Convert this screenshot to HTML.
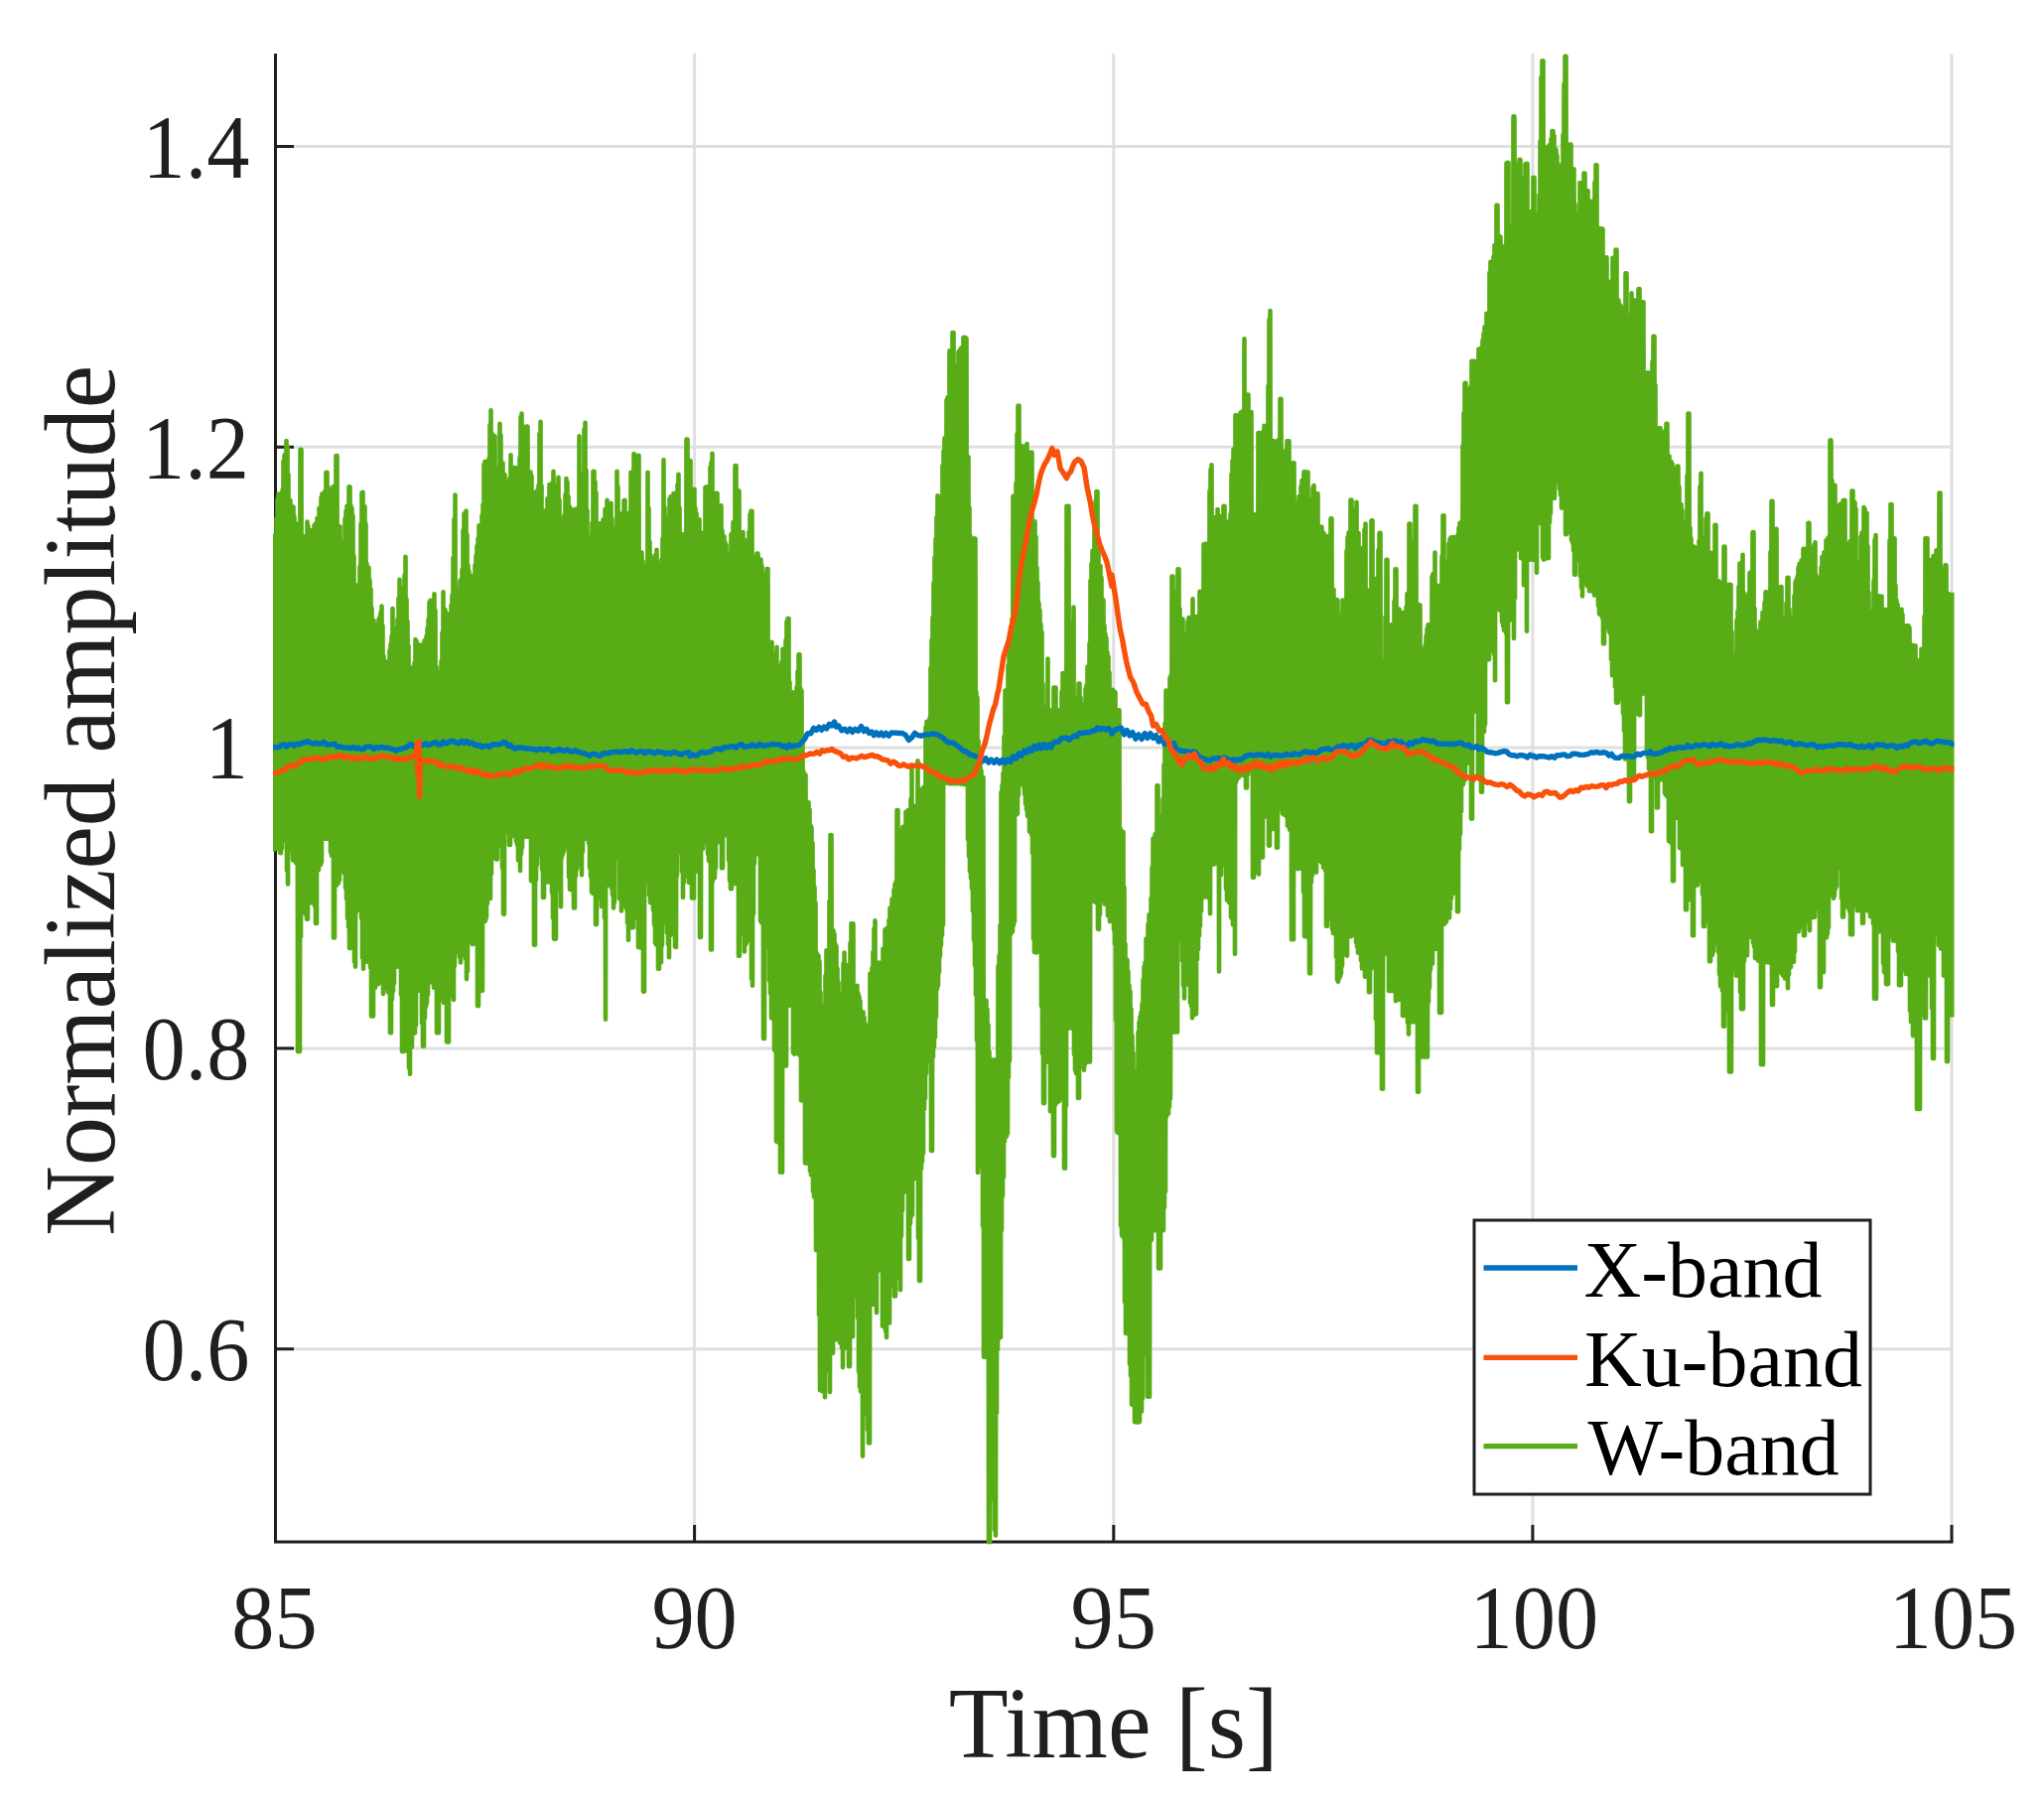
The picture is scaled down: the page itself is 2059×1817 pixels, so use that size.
<!DOCTYPE html>
<html lang="en"><head><meta charset="utf-8"><title>Normalized amplitude vs time</title>
<style>html,body{margin:0;padding:0;background:#fff}svg{display:block}</style></head>
<body>
<svg width="2059" height="1817" viewBox="0 0 2059 1817">
<rect width="2059" height="1817" fill="#fff"/>
<defs><clipPath id="ax"><rect x="275.0" y="53.0" width="1693.5" height="1502.4"/></clipPath></defs>
<g stroke="#DFDFDF" stroke-width="3" fill="none">
<line x1="699.6" y1="54.0" x2="699.6" y2="1552.9"/>
<line x1="1121.8" y1="54.0" x2="1121.8" y2="1552.9"/>
<line x1="1543.9" y1="54.0" x2="1543.9" y2="1552.9"/>
<line x1="1966.0" y1="54.0" x2="1966.0" y2="1552.9"/>
<line x1="277.5" y1="1358.7" x2="1966.0" y2="1358.7"/>
<line x1="277.5" y1="1055.9" x2="1966.0" y2="1055.9"/>
<line x1="277.5" y1="753.1" x2="1966.0" y2="753.1"/>
<line x1="277.5" y1="450.3" x2="1966.0" y2="450.3"/>
<line x1="277.5" y1="147.5" x2="1966.0" y2="147.5"/>
</g>
<g stroke="#1f1f1f" stroke-width="3" fill="none" stroke-linecap="butt">
<polyline points="277.5,54.0 277.5,1552.9 1967.5,1552.9" stroke-linejoin="miter"/>
<line x1="699.6" y1="1552.9" x2="699.6" y2="1535.9"/>
<line x1="1121.8" y1="1552.9" x2="1121.8" y2="1535.9"/>
<line x1="1543.9" y1="1552.9" x2="1543.9" y2="1535.9"/>
<line x1="1966.0" y1="1552.9" x2="1966.0" y2="1535.9"/>
<line x1="277.5" y1="1358.7" x2="296.0" y2="1358.7"/>
<line x1="277.5" y1="1055.9" x2="296.0" y2="1055.9"/>
<line x1="277.5" y1="753.1" x2="296.0" y2="753.1"/>
<line x1="277.5" y1="450.3" x2="296.0" y2="450.3"/>
<line x1="277.5" y1="147.5" x2="296.0" y2="147.5"/>
</g>
<g clip-path="url(#ax)">
<polyline points="273.5,539.5 274.0,855.7 274.5,539.5 275.0,855.7 275.5,539.5 276.0,855.7 276.5,548.9 277.0,848.3 277.5,556.7 278.0,848.7 278.5,522.2 279.0,854.3 279.5,503.0 280.0,847.3 280.5,497.6 281.0,847.9 281.5,497.9 282.0,858.9 282.5,500.2 283.0,859.3 283.5,503.1 284.0,854.2 284.5,493.9 285.0,831.5 285.5,464.9 286.0,827.7 286.5,458.5 287.0,843.7 287.5,457.0 288.0,846.8 288.5,444.1 289.0,876.8 289.5,449.6 290.0,890.5 290.5,477.8 291.0,848.9 291.5,518.4 292.0,851.2 292.5,504.0 293.0,853.5 293.5,511.7 294.0,857.1 294.5,522.6 295.0,866.4 295.5,510.6 296.0,864.3 296.5,520.4 297.0,861.0 297.5,535.2 298.0,869.0 298.5,527.3 299.0,870.1 299.5,540.6 300.0,1058.9 300.5,545.8 301.0,1058.9 301.5,543.7 302.0,1058.9 302.5,452.9 303.0,943.8 303.5,452.9 304.0,907.1 304.5,544.5 305.0,915.3 305.5,542.7 306.0,915.1 306.5,540.2 307.0,919.5 307.5,542.6 308.0,920.8 308.5,552.8 309.0,925.8 309.5,525.6 310.0,925.8 310.5,530.0 311.0,893.8 311.5,539.2 312.0,908.6 312.5,534.7 313.0,909.2 313.5,537.0 314.0,909.2 314.5,534.0 315.0,908.8 315.5,537.0 316.0,909.0 316.5,529.2 317.0,912.6 317.5,528.0 318.0,930.0 318.5,530.9 319.0,930.0 319.5,522.0 320.0,877.0 320.5,531.1 321.0,876.1 321.5,511.8 322.0,863.1 322.5,514.4 323.0,871.1 323.5,501.1 324.0,868.1 324.5,497.3 325.0,845.8 325.5,500.3 326.0,844.6 326.5,497.0 327.0,844.7 327.5,494.3 328.0,844.7 328.5,475.7 329.0,844.7 329.5,475.7 330.0,844.7 330.5,490.6 331.0,844.6 331.5,493.2 332.0,844.5 332.5,497.5 333.0,858.2 333.5,505.7 334.0,862.0 334.5,498.2 335.0,861.4 335.5,490.3 336.0,944.5 336.5,492.0 337.0,944.5 337.5,496.6 338.0,892.1 338.5,459.1 339.0,891.8 339.5,459.1 340.0,875.9 340.5,532.9 341.0,889.4 341.5,531.8 342.0,886.4 342.5,530.3 343.0,878.2 343.5,548.3 344.0,875.5 344.5,545.2 345.0,876.2 345.5,546.6 346.0,870.6 346.5,548.8 347.0,879.8 347.5,522.2 348.0,894.3 348.5,515.1 349.0,905.2 349.5,509.8 350.0,925.2 350.5,510.2 351.0,933.4 351.5,490.3 352.0,954.9 352.5,490.3 353.0,954.9 353.5,509.5 354.0,935.9 354.5,512.1 355.0,933.3 355.5,519.9 356.0,933.8 356.5,560.1 357.0,968.4 357.5,589.9 358.0,973.6 358.5,589.2 359.0,918.4 359.5,593.9 360.0,916.2 360.5,601.0 361.0,894.9 361.5,604.3 362.0,889.4 362.5,570.6 363.0,898.0 363.5,527.9 364.0,924.5 364.5,496.3 365.0,964.8 365.5,495.8 366.0,975.7 366.5,510.7 367.0,967.4 367.5,510.3 368.0,962.4 368.5,527.5 369.0,968.7 369.5,567.7 370.0,962.3 370.5,578.1 371.0,966.5 371.5,571.8 372.0,967.1 372.5,584.2 373.0,974.3 373.5,593.4 374.0,1023.5 374.5,612.5 375.0,1023.5 375.5,631.8 376.0,1023.5 376.5,624.7 377.0,994.8 377.5,629.4 378.0,994.7 378.5,633.9 379.0,979.9 379.5,636.5 380.0,985.8 380.5,634.8 381.0,991.3 381.5,623.8 382.0,978.3 382.5,621.6 383.0,982.2 383.5,617.0 384.0,977.6 384.5,610.5 385.0,989.9 385.5,630.4 386.0,1000.9 386.5,660.8 387.0,987.1 387.5,681.8 388.0,995.6 388.5,685.4 389.0,994.5 389.5,669.7 390.0,995.6 390.5,666.2 391.0,999.5 391.5,668.9 392.0,988.8 392.5,655.0 393.0,1040.2 393.5,648.9 394.0,1040.2 394.5,640.8 395.0,1006.4 395.5,613.0 396.0,998.2 396.5,632.6 397.0,990.4 397.5,652.7 398.0,969.5 398.5,639.5 399.0,972.1 399.5,644.6 400.0,973.8 400.5,623.9 401.0,967.6 401.5,602.6 402.0,961.4 402.5,583.9 403.0,971.6 403.5,591.5 404.0,1001.8 404.5,611.9 405.0,1058.9 405.5,612.9 406.0,1058.9 406.5,598.7 407.0,1058.9 407.5,579.4 408.0,1037.2 408.5,560.8 409.0,1038.4 409.5,603.5 410.0,1043.0 410.5,626.0 411.0,1058.9 411.5,650.5 412.0,1075.6 412.5,671.0 413.0,1081.7 413.5,677.2 414.0,1054.0 414.5,673.4 415.0,1054.4 415.5,672.9 416.0,1041.5 416.5,674.4 417.0,1030.8 417.5,667.7 418.0,1040.4 418.5,644.0 419.0,1032.8 419.5,645.9 420.0,981.7 420.5,651.8 421.0,997.3 421.5,649.6 422.0,997.8 422.5,649.9 423.0,986.7 423.5,649.5 424.0,993.7 424.5,653.3 425.0,1030.2 425.5,655.9 426.0,1053.7 426.5,649.3 427.0,1053.7 427.5,645.2 428.0,1025.5 428.5,645.7 429.0,1014.4 429.5,640.7 430.0,1010.6 430.5,632.8 431.0,1002.0 431.5,624.1 432.0,989.7 432.5,606.7 433.0,989.5 433.5,604.9 434.0,989.1 434.5,616.6 435.0,988.2 435.5,618.4 436.0,979.2 436.5,604.2 437.0,994.8 437.5,598.3 438.0,992.6 438.5,614.8 439.0,983.2 439.5,671.5 440.0,1040.2 440.5,698.0 441.0,1040.2 441.5,684.3 442.0,1040.2 442.5,685.6 443.0,976.7 443.5,676.4 444.0,982.7 444.5,666.1 445.0,991.6 445.5,637.3 446.0,1006.8 446.5,596.3 447.0,1009.9 447.5,613.5 448.0,997.1 448.5,614.3 449.0,1010.7 449.5,617.2 450.0,1049.5 450.5,618.6 451.0,1049.5 451.5,626.9 452.0,1049.5 452.5,631.1 453.0,998.5 453.5,631.4 454.0,1002.5 454.5,609.7 455.0,999.1 455.5,599.2 456.0,991.5 456.5,561.9 457.0,1006.9 457.5,523.1 458.0,972.4 458.5,498.6 459.0,950.2 459.5,595.7 460.0,943.0 460.5,593.9 461.0,951.7 461.5,608.3 462.0,958.8 462.5,601.5 463.0,963.8 463.5,585.4 464.0,969.5 464.5,583.6 465.0,962.2 465.5,573.8 466.0,941.1 466.5,534.4 467.0,943.6 467.5,517.2 468.0,935.9 468.5,519.7 469.0,965.8 469.5,514.5 470.0,986.1 470.5,538.6 471.0,978.3 471.5,569.6 472.0,949.3 472.5,575.2 473.0,935.3 473.5,581.0 474.0,942.2 474.5,579.7 475.0,949.2 475.5,593.7 476.0,951.1 476.5,599.9 477.0,950.6 477.5,590.3 478.0,949.8 478.5,569.1 479.0,949.0 479.5,559.6 480.0,947.1 480.5,550.1 481.0,1013.1 481.5,542.7 482.0,1013.1 482.5,529.4 483.0,998.4 483.5,540.9 484.0,990.4 484.5,536.3 485.0,998.0 485.5,519.1 486.0,997.7 486.5,508.4 487.0,928.7 487.5,467.8 488.0,920.1 488.5,464.9 489.0,927.6 489.5,493.4 490.0,924.1 490.5,488.7 491.0,909.9 491.5,491.8 492.0,894.6 492.5,461.9 493.0,904.4 493.5,428.0 494.0,905.0 494.5,413.4 495.0,880.2 495.5,436.3 496.0,854.6 496.5,439.5 497.0,863.7 497.5,453.8 498.0,858.2 498.5,439.4 499.0,860.0 499.5,497.6 500.0,865.4 500.5,494.3 501.0,865.5 501.5,502.5 502.0,852.0 502.5,471.3 503.0,845.2 503.5,426.9 504.0,843.4 504.5,438.5 505.0,842.1 505.5,467.1 506.0,873.9 506.5,466.2 507.0,920.6 507.5,479.2 508.0,920.6 508.5,478.1 509.0,837.6 509.5,484.5 510.0,837.4 510.5,489.7 511.0,835.7 511.5,492.0 512.0,837.8 512.5,486.1 513.0,851.0 513.5,481.8 514.0,851.0 514.5,458.2 515.0,840.1 515.5,479.0 516.0,833.5 516.5,483.1 517.0,825.3 517.5,471.0 518.0,842.3 518.5,471.1 519.0,842.5 519.5,471.3 520.0,847.4 520.5,471.6 521.0,851.1 521.5,476.9 522.0,866.5 522.5,475.3 523.0,860.5 523.5,461.1 524.0,877.0 524.5,420.2 525.0,860.0 525.5,416.5 526.0,853.7 526.5,429.2 527.0,843.6 527.5,441.8 528.0,842.7 528.5,452.0 529.0,829.1 529.5,447.4 530.0,842.7 530.5,429.6 531.0,842.7 531.5,429.9 532.0,842.7 532.5,476.0 533.0,842.0 533.5,492.1 534.0,840.9 534.5,475.6 535.0,887.3 535.5,479.3 536.0,872.2 536.5,497.9 537.0,876.1 537.5,496.5 538.0,951.8 538.5,496.4 539.0,951.8 539.5,507.9 540.0,886.2 540.5,494.6 541.0,871.1 541.5,505.6 542.0,854.2 542.5,488.9 543.0,860.8 543.5,437.0 544.0,861.2 544.5,424.8 545.0,850.3 545.5,489.4 546.0,875.5 546.5,531.2 547.0,904.0 547.5,517.3 548.0,904.0 548.5,514.8 549.0,888.0 549.5,514.4 550.0,888.3 550.5,525.8 551.0,888.4 551.5,502.0 552.0,888.4 552.5,501.4 553.0,876.2 553.5,488.1 554.0,882.8 554.5,504.0 555.0,879.2 555.5,491.9 556.0,899.1 556.5,486.3 557.0,924.8 557.5,474.7 558.0,945.6 558.5,488.3 559.0,945.6 559.5,507.7 560.0,945.6 560.5,503.1 561.0,882.9 561.5,498.3 562.0,885.2 562.5,480.9 563.0,870.4 563.5,503.2 564.0,895.6 564.5,522.3 565.0,913.3 565.5,530.7 566.0,863.8 566.5,530.7 567.0,860.2 567.5,546.8 568.0,857.5 568.5,518.6 569.0,852.9 569.5,498.1 570.0,835.1 570.5,482.0 571.0,845.5 571.5,485.7 572.0,848.0 572.5,500.0 573.0,883.3 573.5,510.0 574.0,895.8 574.5,511.7 575.0,896.1 575.5,513.8 576.0,888.7 576.5,531.8 577.0,890.1 577.5,513.8 578.0,914.4 578.5,513.4 579.0,914.4 579.5,512.9 580.0,882.4 580.5,520.7 581.0,875.4 581.5,518.0 582.0,868.0 582.5,511.8 583.0,859.8 583.5,439.4 584.0,871.0 584.5,517.0 585.0,871.4 585.5,518.0 586.0,881.3 586.5,518.1 587.0,857.7 587.5,477.5 588.0,836.9 588.5,432.2 589.0,844.7 589.5,425.8 590.0,844.7 590.5,473.7 591.0,827.9 591.5,514.1 592.0,840.9 592.5,540.3 593.0,849.1 593.5,547.2 594.0,873.9 594.5,554.1 595.0,882.9 595.5,548.7 596.0,898.5 596.5,526.7 597.0,899.8 597.5,474.7 598.0,883.6 598.5,474.7 599.0,897.9 599.5,485.2 600.0,931.0 600.5,496.3 601.0,931.0 601.5,543.2 602.0,901.4 602.5,529.3 603.0,901.3 603.5,527.5 604.0,901.3 604.5,527.2 605.0,904.9 605.5,527.0 606.0,912.9 606.5,538.1 607.0,907.8 607.5,523.4 608.0,907.1 608.5,531.1 609.0,924.4 609.5,513.0 610.0,1026.7 610.5,514.7 611.0,884.2 611.5,503.8 612.0,891.1 612.5,506.8 613.0,877.3 613.5,522.9 614.0,890.0 614.5,511.2 615.0,892.6 615.5,506.9 616.0,894.6 616.5,522.7 617.0,901.4 617.5,532.3 618.0,914.4 618.5,563.9 619.0,908.9 619.5,566.3 620.0,857.3 620.5,551.7 621.0,862.8 621.5,474.7 622.0,861.4 622.5,490.4 623.0,864.2 623.5,527.1 624.0,905.2 624.5,517.2 625.0,900.9 625.5,521.9 626.0,917.5 626.5,524.2 627.0,912.4 627.5,518.2 628.0,910.0 628.5,504.2 629.0,905.2 629.5,503.8 630.0,904.8 630.5,517.1 631.0,915.1 631.5,543.3 632.0,929.3 632.5,536.0 633.0,946.8 633.5,532.1 634.0,934.0 634.5,516.1 635.0,934.0 635.5,475.7 636.0,934.1 636.5,484.5 637.0,934.1 637.5,492.5 638.0,934.1 638.5,457.0 639.0,916.0 639.5,458.6 640.0,915.9 640.5,459.2 641.0,915.8 641.5,464.1 642.0,924.7 642.5,458.9 643.0,954.0 643.5,458.9 644.0,954.2 644.5,558.7 645.0,954.4 645.5,557.1 646.0,953.6 646.5,556.5 647.0,949.8 647.5,565.2 648.0,998.6 648.5,570.6 649.0,998.6 649.5,581.0 650.0,876.3 650.5,592.8 651.0,873.3 651.5,577.9 652.0,876.3 652.5,475.7 653.0,888.7 653.5,511.9 654.0,901.6 654.5,545.8 655.0,908.9 655.5,559.2 656.0,896.3 656.5,577.7 657.0,910.3 657.5,562.8 658.0,916.6 658.5,569.9 659.0,931.6 659.5,572.4 660.0,949.7 660.5,558.9 661.0,951.4 661.5,553.7 662.0,934.6 662.5,566.8 663.0,975.7 663.5,572.3 664.0,975.7 664.5,577.0 665.0,960.7 665.5,571.0 666.0,969.2 666.5,563.6 667.0,952.1 667.5,542.5 668.0,929.8 668.5,463.3 669.0,919.3 669.5,510.9 670.0,920.1 670.5,534.9 671.0,919.1 671.5,537.3 672.0,939.4 672.5,548.3 673.0,950.9 673.5,520.6 674.0,964.3 674.5,502.6 675.0,942.2 675.5,500.2 676.0,931.2 676.5,500.1 677.0,931.8 677.5,514.5 678.0,926.6 678.5,497.1 679.0,941.8 679.5,510.8 680.0,953.6 680.5,509.3 681.0,953.9 681.5,496.4 682.0,882.1 682.5,488.2 683.0,858.9 683.5,477.8 684.0,854.1 684.5,511.4 685.0,845.3 685.5,554.3 686.0,852.0 686.5,555.8 687.0,877.8 687.5,539.5 688.0,904.0 688.5,538.1 689.0,888.6 689.5,541.1 690.0,882.5 690.5,541.8 691.0,878.9 691.5,442.5 692.0,878.9 692.5,442.5 693.0,877.9 693.5,471.2 694.0,888.9 694.5,479.2 695.0,884.3 695.5,464.0 696.0,872.6 696.5,509.0 697.0,904.5 697.5,508.3 698.0,904.5 698.5,493.0 699.0,904.5 699.5,492.7 700.0,873.2 700.5,512.1 701.0,876.0 701.5,517.0 702.0,877.5 702.5,525.1 703.0,873.0 703.5,527.0 704.0,862.2 704.5,523.2 705.0,944.0 705.5,543.3 706.0,944.0 706.5,539.0 707.0,849.6 707.5,536.7 708.0,854.8 708.5,551.5 709.0,837.8 709.5,548.9 710.0,834.6 710.5,490.9 711.0,848.6 711.5,490.7 712.0,847.4 712.5,490.4 713.0,859.9 713.5,491.1 714.0,867.1 714.5,495.7 715.0,861.6 715.5,470.5 716.0,956.5 716.5,465.5 717.0,956.5 717.5,456.7 718.0,887.5 718.5,510.2 719.0,871.5 719.5,497.4 720.0,884.1 720.5,497.2 721.0,874.2 721.5,496.9 722.0,847.9 722.5,496.7 723.0,841.8 723.5,512.2 724.0,848.3 724.5,510.6 725.0,842.8 725.5,509.5 726.0,840.8 726.5,509.2 727.0,874.3 727.5,534.6 728.0,874.3 728.5,545.5 729.0,837.2 729.5,540.2 730.0,841.2 730.5,546.4 731.0,841.2 731.5,548.6 732.0,841.5 732.5,559.9 733.0,839.8 733.5,557.3 734.0,866.6 734.5,559.2 735.0,886.7 735.5,558.4 736.0,895.1 736.5,538.0 737.0,895.1 737.5,538.4 738.0,881.8 738.5,526.0 739.0,882.2 739.5,530.0 740.0,889.2 740.5,469.1 741.0,889.9 741.5,469.1 742.0,886.8 742.5,496.1 743.0,874.2 743.5,493.7 744.0,962.7 744.5,494.9 745.0,962.7 745.5,544.3 746.0,915.4 746.5,542.2 747.0,906.2 747.5,543.5 748.0,915.6 748.5,536.0 749.0,940.7 749.5,544.5 750.0,958.5 750.5,544.4 751.0,951.6 751.5,544.6 752.0,949.4 752.5,544.6 753.0,933.0 753.5,548.0 754.0,943.3 754.5,535.5 755.0,946.4 755.5,518.4 756.0,946.7 756.5,514.9 757.0,985.7 757.5,514.9 758.0,992.8 758.5,568.2 759.0,920.7 759.5,564.8 760.0,869.5 760.5,566.3 761.0,861.0 761.5,561.3 762.0,859.4 762.5,557.6 763.0,860.3 763.5,557.5 764.0,856.1 764.5,566.6 765.0,859.9 765.5,575.1 766.0,927.4 766.5,563.5 767.0,929.3 767.5,570.1 768.0,927.9 768.5,595.5 769.0,1045.9 769.5,578.3 770.0,1045.9 770.5,582.3 771.0,953.2 771.5,582.6 772.0,954.0 772.5,573.1 773.0,947.4 773.5,573.1 774.0,938.7 774.5,649.3 775.0,987.6 775.5,649.8 776.0,1000.4 776.5,660.9 777.0,1025.2 777.5,646.8 778.0,1017.0 778.5,678.5 779.0,1026.9 779.5,665.2 780.0,1057.6 780.5,667.5 781.0,1056.7 781.5,658.1 782.0,1149.6 782.5,651.9 783.0,1136.4 783.5,670.9 784.0,1150.4 784.5,672.7 785.0,1149.2 785.5,673.2 786.0,1180.7 786.5,677.7 787.0,1180.7 787.5,666.8 788.0,1180.7 788.5,653.9 789.0,1070.1 789.5,663.1 790.0,1071.0 790.5,660.6 791.0,1063.8 791.5,644.8 792.0,1073.6 792.5,626.1 793.0,1005.4 793.5,623.0 794.0,1012.5 794.5,623.0 795.0,1012.6 795.5,687.4 796.0,1012.6 796.5,706.0 797.0,1007.7 797.5,706.9 798.0,996.6 798.5,697.4 799.0,1060.3 799.5,702.1 800.0,1061.7 800.5,703.3 801.0,1061.2 801.5,710.7 802.0,1060.7 802.5,692.3 803.0,1058.5 803.5,676.4 804.0,1057.1 804.5,659.4 805.0,1062.6 805.5,659.4 806.0,1054.4 806.5,693.8 807.0,1108.2 807.5,695.8 808.0,1108.4 808.5,745.4 809.0,1108.4 809.5,777.2 810.0,1092.0 810.5,786.9 811.0,1171.5 811.5,780.6 812.0,1171.8 812.5,806.9 813.0,1160.4 813.5,808.7 814.0,1160.1 814.5,808.2 815.0,1160.2 815.5,815.5 816.0,1179.2 816.5,831.3 817.0,1183.4 817.5,833.4 818.0,1180.4 818.5,849.3 819.0,1200.1 819.5,876.2 820.0,1205.6 820.5,893.6 821.0,1196.1 821.5,909.6 822.0,1259.1 822.5,959.7 823.0,1254.8 823.5,961.4 824.0,1250.5 824.5,962.7 825.0,1324.7 825.5,968.5 826.0,1400.2 826.5,999.6 827.0,1400.6 827.5,1028.0 828.0,1401.2 828.5,1016.5 829.0,1401.5 829.5,1013.3 830.0,1399.4 830.5,1013.1 831.0,1407.3 831.5,982.5 832.0,1379.0 832.5,957.2 833.0,1370.3 833.5,959.8 834.0,1380.2 834.5,960.4 835.0,1379.5 835.5,907.6 836.0,1402.1 836.5,841.0 837.0,1363.8 837.5,841.0 838.0,1363.1 838.5,936.2 839.0,1362.8 839.5,937.2 840.0,1349.1 840.5,940.9 841.0,1333.8 841.5,950.9 842.0,1339.9 842.5,953.2 843.0,1349.2 843.5,975.5 844.0,1343.3 844.5,989.3 845.0,1346.2 845.5,1000.9 846.0,1352.5 846.5,1002.2 847.0,1337.9 847.5,1017.3 848.0,1357.3 848.5,1003.8 849.0,1377.2 849.5,970.6 850.0,1358.1 850.5,959.5 851.0,1355.8 851.5,981.7 852.0,1342.1 852.5,986.0 853.0,1349.2 853.5,972.0 854.0,1358.8 854.5,983.2 855.0,1376.2 855.5,985.3 856.0,1376.2 856.5,949.9 857.0,1346.8 857.5,930.4 858.0,1341.9 858.5,930.4 859.0,1346.2 859.5,930.4 860.0,1296.7 860.5,1000.6 861.0,1304.2 861.5,996.3 862.0,1305.6 862.5,1001.3 863.0,1292.4 863.5,992.7 864.0,1327.3 864.5,1000.9 865.0,1381.6 865.5,1003.7 866.0,1397.1 866.5,1008.2 867.0,1401.5 867.5,1019.4 868.0,1395.1 868.5,1029.7 869.0,1466.6 869.5,1019.2 870.0,1420.8 870.5,1024.8 871.0,1416.1 871.5,1030.9 872.0,1423.1 872.5,1035.7 873.0,1418.0 873.5,1043.6 874.0,1440.0 874.5,1033.2 875.0,1453.5 875.5,1036.4 876.0,1453.5 876.5,980.5 877.0,1309.9 877.5,987.7 878.0,1313.5 878.5,974.9 879.0,1313.6 879.5,958.7 880.0,1313.8 880.5,935.2 881.0,1313.8 881.5,927.3 882.0,1307.1 882.5,973.0 883.0,1322.1 883.5,982.2 884.0,1264.2 884.5,979.9 885.0,1279.3 885.5,969.6 886.0,1279.5 886.5,972.8 887.0,1266.2 887.5,976.2 888.0,1272.5 888.5,975.0 889.0,1335.8 889.5,955.6 890.0,1329.6 890.5,962.7 891.0,1336.6 891.5,936.4 892.0,1340.6 892.5,940.7 893.0,1347.0 893.5,934.8 894.0,1318.8 894.5,940.7 895.0,1322.7 895.5,926.6 896.0,1332.5 896.5,914.5 897.0,1290.4 897.5,917.5 898.0,1294.9 898.5,905.6 899.0,1295.0 899.5,912.7 900.0,1279.0 900.5,896.2 901.0,1305.5 901.5,890.7 902.0,1305.5 902.5,888.2 903.0,1251.8 903.5,816.1 904.0,1258.0 904.5,816.1 905.0,1255.1 905.5,860.9 906.0,1287.3 906.5,861.9 907.0,1299.2 907.5,866.0 908.0,1244.9 908.5,835.8 909.0,1219.3 909.5,832.7 910.0,1201.7 910.5,833.3 911.0,1187.8 911.5,834.5 912.0,1190.8 912.5,817.7 913.0,1195.0 913.5,826.0 914.0,1199.4 914.5,816.4 915.0,1268.0 915.5,815.7 916.0,1268.0 916.5,828.2 917.0,1232.4 917.5,804.8 918.0,1225.1 918.5,774.5 919.0,1223.7 919.5,814.0 920.0,1171.0 920.5,824.2 921.0,1175.1 921.5,811.9 922.0,1186.9 922.5,813.2 923.0,1185.2 923.5,815.6 924.0,1187.0 924.5,766.2 925.0,1246.9 925.5,794.8 926.0,1289.9 926.5,812.5 927.0,1289.9 927.5,800.6 928.0,1177.4 928.5,794.7 929.0,1170.1 929.5,805.0 930.0,1161.6 930.5,792.8 931.0,1117.2 931.5,794.9 932.0,1106.2 932.5,732.6 933.0,1081.5 933.5,726.8 934.0,1069.5 934.5,738.8 935.0,1066.3 935.5,732.4 936.0,1053.7 936.5,723.1 937.0,1068.8 937.5,672.7 938.0,1158.9 938.5,644.7 939.0,1158.9 939.5,622.0 940.0,1064.7 940.5,587.0 941.0,1054.3 941.5,561.6 942.0,1044.7 942.5,543.0 943.0,1024.3 943.5,520.8 944.0,996.3 944.5,499.2 945.0,992.4 945.5,500.5 946.0,979.2 946.5,501.3 947.0,963.1 947.5,500.3 948.0,952.0 948.5,500.4 949.0,942.0 949.5,469.2 950.0,931.4 950.5,454.2 951.0,778.1 951.5,441.3 952.0,788.2 952.5,441.3 953.0,788.6 953.5,403.1 954.0,778.3 954.5,400.4 955.0,776.2 955.5,406.9 956.0,789.1 956.5,353.4 957.0,789.1 957.5,365.3 958.0,789.1 958.5,362.0 959.0,789.1 959.5,335.1 960.0,789.1 960.5,335.1 961.0,789.1 961.5,378.7 962.0,789.1 962.5,373.7 963.0,789.1 963.5,368.1 964.0,789.1 964.5,375.2 965.0,789.1 965.5,354.4 966.0,789.3 966.5,357.0 967.0,789.4 967.5,351.3 968.0,789.5 968.5,356.1 969.0,789.6 969.5,349.2 970.0,789.8 970.5,340.1 971.0,789.9 971.5,339.8 972.0,790.0 972.5,340.1 973.0,789.0 973.5,341.0 974.0,786.6 974.5,462.1 975.0,845.6 975.5,460.3 976.0,862.6 976.5,511.0 977.0,877.5 977.5,540.1 978.0,884.4 978.5,555.2 979.0,895.0 979.5,546.0 980.0,917.6 980.5,543.6 981.0,947.1 981.5,542.4 982.0,972.5 982.5,542.7 983.0,1002.1 983.5,697.2 984.0,1048.1 984.5,702.7 985.0,1181.0 985.5,746.3 986.0,1175.3 986.5,773.3 987.0,1162.7 987.5,770.4 988.0,1159.3 988.5,776.4 989.0,1168.0 989.5,792.2 990.0,1235.1 990.5,783.0 991.0,1366.8 991.5,1007.6 992.0,1366.8 992.5,1022.0 993.0,1329.1 993.5,1007.7 994.0,1338.5 994.5,1016.8 995.0,1338.6 995.5,1032.3 996.0,1553.5 996.5,1059.2 997.0,1553.5 997.5,1075.4 998.0,1489.4 998.5,1068.4 999.0,1489.9 999.5,1067.6 1000.0,1488.9 1000.5,1067.6 1001.0,1509.7 1001.5,1067.6 1002.0,1541.0 1002.5,1067.6 1003.0,1546.4 1003.5,1070.7 1004.0,1423.3 1004.5,1085.6 1005.0,1359.2 1005.5,973.1 1006.0,1348.7 1006.5,962.3 1007.0,1334.1 1007.5,931.9 1008.0,1347.0 1008.5,797.9 1009.0,1239.3 1009.5,790.5 1010.0,1204.8 1010.5,778.9 1011.0,1185.6 1011.5,741.7 1012.0,1149.4 1012.5,695.5 1013.0,1145.5 1013.5,704.4 1014.0,1144.4 1014.5,707.3 1015.0,1141.6 1015.5,670.2 1016.0,1085.1 1016.5,649.5 1017.0,1068.5 1017.5,651.6 1018.0,941.2 1018.5,635.7 1019.0,937.1 1019.5,623.6 1020.0,938.5 1020.5,499.7 1021.0,932.0 1021.5,506.6 1022.0,928.0 1022.5,500.2 1023.0,821.2 1023.5,486.8 1024.0,818.5 1024.5,437.3 1025.0,819.6 1025.5,408.7 1026.0,800.9 1026.5,408.5 1027.0,775.9 1027.5,448.2 1028.0,777.0 1028.5,453.5 1029.0,786.2 1029.5,450.0 1030.0,789.7 1030.5,449.5 1031.0,792.1 1031.5,455.5 1032.0,799.7 1032.5,461.4 1033.0,809.8 1033.5,459.2 1034.0,815.7 1034.5,447.1 1035.0,821.9 1035.5,457.2 1036.0,820.2 1036.5,464.9 1037.0,837.4 1037.5,469.4 1038.0,834.2 1038.5,455.6 1039.0,840.4 1039.5,455.6 1040.0,859.3 1040.5,527.1 1041.0,945.7 1041.5,526.1 1042.0,958.9 1042.5,525.3 1043.0,956.7 1043.5,540.9 1044.0,959.4 1044.5,571.9 1045.0,958.0 1045.5,586.7 1046.0,958.7 1046.5,607.5 1047.0,950.0 1047.5,614.7 1048.0,955.2 1048.5,628.5 1049.0,1013.3 1049.5,636.9 1050.0,1060.9 1050.5,688.9 1051.0,1111.1 1051.5,712.0 1052.0,1111.1 1052.5,718.3 1053.0,1065.5 1053.5,719.5 1054.0,1063.2 1054.5,718.6 1055.0,1069.5 1055.5,663.5 1056.0,1069.1 1056.5,719.3 1057.0,1067.7 1057.5,728.6 1058.0,1119.3 1058.5,715.5 1059.0,1110.1 1059.5,729.5 1060.0,1111.5 1060.5,718.5 1061.0,1164.1 1061.5,692.6 1062.0,1164.1 1062.5,692.6 1063.0,1112.9 1063.5,692.6 1064.0,1097.3 1064.5,731.1 1065.0,1110.6 1065.5,718.0 1066.0,1108.8 1066.5,715.5 1067.0,1109.1 1067.5,722.4 1068.0,1106.3 1068.5,731.2 1069.0,1100.5 1069.5,696.8 1070.0,1094.0 1070.5,678.1 1071.0,1104.5 1071.5,678.1 1072.0,1176.6 1072.5,681.8 1073.0,1176.6 1073.5,679.1 1074.0,1114.0 1074.5,509.7 1075.0,1034.7 1075.5,509.7 1076.0,1034.6 1076.5,509.7 1077.0,1035.5 1077.5,676.7 1078.0,1035.5 1078.5,661.8 1079.0,1035.5 1079.5,673.8 1080.0,1029.9 1080.5,627.3 1081.0,1031.3 1081.5,611.6 1082.0,1062.1 1082.5,704.3 1083.0,1077.9 1083.5,704.0 1084.0,1080.9 1084.5,713.7 1085.0,1067.8 1085.5,703.4 1086.0,1105.9 1086.5,688.5 1087.0,1105.9 1087.5,688.5 1088.0,1074.5 1088.5,702.8 1089.0,1069.0 1089.5,720.5 1090.0,1068.7 1090.5,715.4 1091.0,1073.2 1091.5,717.1 1092.0,1077.8 1092.5,709.2 1093.0,1071.9 1093.5,694.0 1094.0,1065.3 1094.5,690.1 1095.0,1055.5 1095.5,671.5 1096.0,1069.5 1096.5,674.8 1097.0,1069.5 1097.5,648.1 1098.0,1069.5 1098.5,584.9 1099.0,907.7 1099.5,567.6 1100.0,907.0 1100.5,554.7 1101.0,907.2 1101.5,561.5 1102.0,907.9 1102.5,531.9 1103.0,905.7 1103.5,505.4 1104.0,909.1 1104.5,495.1 1105.0,900.9 1105.5,495.1 1106.0,935.8 1106.5,558.0 1107.0,936.0 1107.5,573.3 1108.0,921.1 1108.5,570.1 1109.0,902.6 1109.5,581.9 1110.0,903.9 1110.5,606.5 1111.0,896.6 1111.5,604.4 1112.0,907.3 1112.5,630.0 1113.0,910.7 1113.5,638.9 1114.0,904.0 1114.5,642.9 1115.0,910.0 1115.5,657.1 1116.0,922.2 1116.5,661.3 1117.0,921.6 1117.5,677.4 1118.0,928.1 1118.5,694.4 1119.0,918.3 1119.5,695.6 1120.0,927.6 1120.5,694.9 1121.0,927.8 1121.5,695.5 1122.0,936.6 1122.5,696.5 1123.0,950.8 1123.5,697.6 1124.0,1027.3 1124.5,727.1 1125.0,1139.5 1125.5,719.2 1126.0,1140.9 1126.5,715.4 1127.0,1125.5 1127.5,715.4 1128.0,1139.8 1128.5,834.2 1129.0,1234.7 1129.5,839.2 1130.0,1244.5 1130.5,844.9 1131.0,1230.5 1131.5,837.9 1132.0,1246.7 1132.5,893.8 1133.0,1311.4 1133.5,950.8 1134.0,1343.0 1134.5,972.2 1135.0,1343.0 1135.5,966.9 1136.0,1340.3 1136.5,978.4 1137.0,1336.0 1137.5,992.7 1138.0,1374.1 1138.5,998.6 1139.0,1385.6 1139.5,1016.4 1140.0,1414.6 1140.5,1043.2 1141.0,1414.6 1141.5,1060.2 1142.0,1403.5 1142.5,1084.2 1143.0,1432.2 1143.5,1080.3 1144.0,1432.3 1144.5,1084.8 1145.0,1432.4 1145.5,1078.9 1146.0,1432.4 1146.5,1039.9 1147.0,1432.5 1147.5,1029.3 1148.0,1432.0 1148.5,1024.1 1149.0,1419.5 1149.5,1019.6 1150.0,1421.4 1150.5,1011.1 1151.0,1408.5 1151.5,986.9 1152.0,1354.2 1152.5,973.7 1153.0,1352.0 1153.5,969.2 1154.0,1363.9 1154.5,945.6 1155.0,1359.5 1155.5,950.6 1156.0,1406.7 1156.5,930.7 1157.0,1406.7 1157.5,921.3 1158.0,1406.7 1158.5,922.7 1159.0,1246.4 1159.5,904.6 1160.0,1248.7 1160.5,873.8 1161.0,1236.2 1161.5,844.6 1162.0,1236.7 1162.5,849.3 1163.0,1239.1 1163.5,840.3 1164.0,1239.1 1164.5,842.8 1165.0,1223.9 1165.5,791.3 1166.0,1221.3 1166.5,791.3 1167.0,1277.5 1167.5,837.4 1168.0,1277.5 1168.5,847.8 1169.0,1277.5 1169.5,852.4 1170.0,1227.1 1170.5,821.6 1171.0,1229.9 1171.5,804.8 1172.0,1239.1 1172.5,770.2 1173.0,1215.9 1173.5,728.6 1174.0,1199.9 1174.5,695.5 1175.0,1124.9 1175.5,703.3 1176.0,1120.5 1176.5,706.8 1177.0,1121.8 1177.5,701.8 1178.0,1114.7 1178.5,682.8 1179.0,1106.2 1179.5,680.3 1180.0,1032.6 1180.5,580.5 1181.0,1037.2 1181.5,580.5 1182.0,1039.5 1182.5,614.9 1183.0,1039.5 1183.5,619.8 1184.0,1039.5 1184.5,619.0 1185.0,1039.5 1185.5,595.6 1186.0,1039.5 1186.5,573.2 1187.0,940.9 1187.5,573.2 1188.0,946.8 1188.5,613.3 1189.0,947.3 1189.5,632.1 1190.0,940.3 1190.5,625.7 1191.0,967.8 1191.5,623.5 1192.0,992.6 1192.5,657.8 1193.0,1005.5 1193.5,645.7 1194.0,980.7 1194.5,643.8 1195.0,991.6 1195.5,637.9 1196.0,975.1 1196.5,626.1 1197.0,979.7 1197.5,622.0 1198.0,991.1 1198.5,628.0 1199.0,1009.9 1199.5,630.9 1200.0,1013.2 1200.5,622.0 1201.0,1025.2 1201.5,603.4 1202.0,1014.8 1202.5,625.1 1203.0,1014.1 1203.5,624.0 1204.0,1021.6 1204.5,621.1 1205.0,1021.3 1205.5,621.1 1206.0,966.3 1206.5,631.7 1207.0,956.2 1207.5,621.8 1208.0,942.4 1208.5,595.8 1209.0,932.7 1209.5,604.1 1210.0,917.7 1210.5,604.7 1211.0,891.4 1211.5,595.3 1212.0,902.7 1212.5,548.2 1213.0,887.5 1213.5,548.0 1214.0,903.4 1214.5,547.8 1215.0,891.7 1215.5,547.7 1216.0,889.4 1216.5,552.7 1217.0,888.3 1217.5,548.5 1218.0,905.1 1218.5,494.4 1219.0,920.2 1219.5,472.9 1220.0,859.6 1220.5,468.3 1221.0,870.6 1221.5,529.0 1222.0,870.6 1222.5,526.3 1223.0,870.4 1223.5,522.0 1224.0,870.0 1224.5,521.0 1225.0,862.0 1225.5,531.1 1226.0,866.6 1226.5,513.0 1227.0,863.4 1227.5,520.8 1228.0,978.4 1228.5,527.2 1229.0,876.9 1229.5,519.7 1230.0,881.3 1230.5,522.4 1231.0,867.9 1231.5,528.2 1232.0,870.5 1232.5,509.8 1233.0,870.9 1233.5,509.8 1234.0,868.4 1234.5,540.9 1235.0,895.2 1235.5,536.4 1236.0,906.7 1236.5,530.5 1237.0,906.5 1237.5,525.5 1238.0,908.9 1238.5,524.3 1239.0,906.9 1239.5,517.5 1240.0,923.8 1240.5,477.9 1241.0,925.3 1241.5,464.1 1242.0,931.5 1242.5,452.6 1243.0,923.2 1243.5,463.4 1244.0,960.8 1244.5,418.4 1245.0,788.2 1245.5,418.4 1246.0,785.1 1246.5,428.6 1247.0,774.2 1247.5,428.8 1248.0,783.1 1248.5,427.9 1249.0,769.6 1249.5,415.9 1250.0,774.9 1250.5,420.5 1251.0,772.1 1251.5,414.2 1252.0,780.9 1252.5,419.5 1253.0,764.0 1253.5,341.4 1254.0,773.3 1254.5,399.7 1255.0,793.4 1255.5,412.0 1256.0,793.4 1256.5,397.6 1257.0,780.5 1257.5,397.6 1258.0,771.8 1258.5,425.4 1259.0,775.5 1259.5,420.4 1260.0,769.3 1260.5,415.1 1261.0,772.9 1261.5,525.0 1262.0,883.8 1262.5,519.6 1263.0,883.8 1263.5,518.2 1264.0,879.0 1264.5,518.2 1265.0,864.8 1265.5,528.1 1266.0,866.4 1266.5,518.2 1267.0,860.1 1267.5,436.0 1268.0,880.4 1268.5,436.0 1269.0,863.2 1269.5,456.9 1270.0,858.4 1270.5,449.2 1271.0,862.0 1271.5,449.9 1272.0,863.6 1272.5,434.4 1273.0,805.2 1273.5,428.7 1274.0,818.1 1274.5,433.0 1275.0,822.5 1275.5,430.1 1276.0,822.5 1276.5,439.0 1277.0,820.1 1277.5,388.8 1278.0,851.6 1278.5,321.9 1279.0,851.6 1279.5,313.0 1280.0,834.9 1280.5,444.0 1281.0,829.5 1281.5,457.5 1282.0,835.0 1282.5,444.1 1283.0,807.9 1283.5,455.5 1284.0,809.2 1284.5,444.7 1285.0,813.3 1285.5,458.3 1286.0,853.7 1286.5,448.4 1287.0,853.7 1287.5,443.4 1288.0,781.6 1288.5,453.7 1289.0,783.3 1289.5,401.7 1290.0,789.9 1290.5,401.7 1291.0,815.1 1291.5,453.4 1292.0,819.5 1292.5,454.8 1293.0,820.4 1293.5,459.1 1294.0,818.9 1294.5,470.5 1295.0,819.4 1295.5,467.6 1296.0,822.5 1296.5,444.3 1297.0,831.7 1297.5,444.3 1298.0,821.2 1298.5,444.3 1299.0,835.6 1299.5,499.3 1300.0,824.3 1300.5,494.4 1301.0,946.2 1301.5,499.9 1302.0,946.2 1302.5,466.2 1303.0,946.2 1303.5,466.2 1304.0,869.1 1304.5,514.7 1305.0,874.5 1305.5,525.9 1306.0,874.6 1306.5,513.4 1307.0,875.0 1307.5,506.6 1308.0,875.1 1308.5,500.1 1309.0,874.7 1309.5,504.4 1310.0,857.2 1310.5,489.5 1311.0,857.9 1311.5,484.1 1312.0,854.7 1312.5,483.9 1313.0,898.5 1313.5,475.2 1314.0,943.1 1314.5,475.3 1315.0,943.1 1315.5,475.5 1316.0,938.7 1316.5,475.5 1317.0,942.8 1317.5,475.5 1318.0,945.0 1318.5,517.6 1319.0,980.3 1319.5,516.6 1320.0,980.5 1320.5,519.5 1321.0,888.4 1321.5,503.2 1322.0,881.5 1322.5,491.3 1323.0,874.2 1323.5,489.0 1324.0,868.1 1324.5,496.4 1325.0,865.5 1325.5,501.9 1326.0,878.6 1326.5,512.5 1327.0,867.3 1327.5,497.4 1328.0,856.3 1328.5,532.0 1329.0,844.6 1329.5,535.8 1330.0,843.5 1330.5,530.6 1331.0,868.5 1331.5,530.9 1332.0,864.9 1332.5,538.6 1333.0,873.8 1333.5,537.0 1334.0,864.4 1334.5,540.1 1335.0,876.7 1335.5,541.5 1336.0,932.7 1336.5,540.0 1337.0,932.7 1337.5,540.0 1338.0,925.3 1338.5,544.6 1339.0,914.5 1339.5,540.9 1340.0,925.5 1340.5,522.3 1341.0,923.5 1341.5,522.3 1342.0,936.0 1342.5,601.4 1343.0,939.9 1343.5,593.8 1344.0,938.3 1344.5,611.4 1345.0,928.5 1345.5,608.7 1346.0,963.7 1346.5,604.1 1347.0,987.1 1347.5,604.6 1348.0,988.8 1348.5,623.0 1349.0,985.3 1349.5,625.0 1350.0,983.7 1350.5,622.7 1351.0,980.5 1351.5,619.4 1352.0,972.7 1352.5,604.5 1353.0,950.7 1353.5,605.3 1354.0,961.5 1354.5,612.1 1355.0,961.2 1355.5,605.0 1356.0,944.3 1356.5,554.8 1357.0,962.7 1357.5,541.3 1358.0,929.7 1358.5,536.2 1359.0,940.7 1359.5,547.1 1360.0,943.1 1360.5,503.6 1361.0,943.1 1361.5,503.6 1362.0,901.7 1362.5,519.8 1363.0,901.2 1363.5,525.6 1364.0,900.0 1364.5,513.2 1365.0,942.4 1365.5,521.4 1366.0,949.3 1366.5,505.7 1367.0,953.6 1367.5,537.2 1368.0,959.7 1368.5,537.1 1369.0,959.2 1369.5,552.7 1370.0,959.6 1370.5,551.8 1371.0,967.5 1371.5,582.2 1372.0,975.5 1372.5,579.0 1373.0,972.7 1373.5,593.9 1374.0,973.1 1374.5,533.5 1375.0,983.8 1375.5,527.5 1376.0,982.2 1376.5,599.2 1377.0,971.4 1377.5,601.1 1378.0,981.4 1378.5,594.9 1379.0,999.2 1379.5,595.2 1380.0,999.2 1380.5,594.4 1381.0,976.0 1381.5,524.4 1382.0,962.4 1382.5,524.4 1383.0,961.5 1383.5,587.8 1384.0,958.2 1384.5,587.8 1385.0,975.1 1385.5,590.0 1386.0,1026.6 1386.5,582.8 1387.0,1060.3 1387.5,582.3 1388.0,1060.3 1388.5,554.0 1389.0,1048.5 1389.5,536.9 1390.0,1045.0 1390.5,536.9 1391.0,1049.9 1391.5,676.7 1392.0,1096.7 1392.5,667.9 1393.0,1096.7 1393.5,665.6 1394.0,953.6 1394.5,667.7 1395.0,960.3 1395.5,621.4 1396.0,960.5 1396.5,563.9 1397.0,953.9 1397.5,563.9 1398.0,952.1 1398.5,633.9 1399.0,997.9 1399.5,630.2 1400.0,997.9 1400.5,629.7 1401.0,997.9 1401.5,629.3 1402.0,997.9 1402.5,641.3 1403.0,997.9 1403.5,634.9 1404.0,997.5 1404.5,605.4 1405.0,993.8 1405.5,573.2 1406.0,1008.3 1406.5,573.2 1407.0,1003.6 1407.5,623.2 1408.0,1004.5 1408.5,614.0 1409.0,1006.7 1409.5,613.5 1410.0,995.0 1410.5,616.4 1411.0,1001.4 1411.5,633.2 1412.0,992.5 1412.5,639.9 1413.0,1022.9 1413.5,636.7 1414.0,1022.9 1414.5,616.8 1415.0,1022.9 1415.5,617.1 1416.0,1009.2 1416.5,611.6 1417.0,1018.2 1417.5,598.0 1418.0,1030.4 1418.5,597.7 1419.0,1041.6 1419.5,527.5 1420.0,1019.1 1420.5,527.5 1421.0,1029.0 1421.5,585.1 1422.0,1029.1 1422.5,585.3 1423.0,1029.1 1423.5,576.2 1424.0,1029.1 1424.5,544.7 1425.0,1029.1 1425.5,509.8 1426.0,1022.6 1426.5,509.8 1427.0,1028.6 1427.5,615.7 1428.0,1099.8 1428.5,617.2 1429.0,1099.8 1429.5,609.3 1430.0,1057.7 1430.5,609.5 1431.0,1055.9 1431.5,676.1 1432.0,1064.4 1432.5,664.1 1433.0,1064.4 1433.5,664.4 1434.0,1064.4 1434.5,654.1 1435.0,1064.4 1435.5,650.3 1436.0,1064.4 1436.5,640.8 1437.0,1064.4 1437.5,633.5 1438.0,1064.4 1438.5,629.4 1439.0,1009.0 1439.5,629.4 1440.0,994.8 1440.5,629.7 1441.0,977.0 1441.5,637.3 1442.0,970.6 1442.5,580.8 1443.0,970.8 1443.5,578.0 1444.0,940.4 1444.5,586.1 1445.0,938.2 1445.5,556.6 1446.0,955.6 1446.5,590.5 1447.0,955.6 1447.5,594.5 1448.0,946.2 1448.5,589.9 1449.0,942.6 1449.5,595.6 1450.0,1020.0 1450.5,600.1 1451.0,1020.0 1451.5,593.6 1452.0,1020.0 1452.5,560.3 1453.0,925.1 1453.5,519.2 1454.0,916.2 1454.5,519.2 1455.0,930.8 1455.5,583.7 1456.0,929.6 1456.5,581.7 1457.0,928.2 1457.5,575.3 1458.0,916.7 1458.5,565.4 1459.0,923.9 1459.5,547.6 1460.0,924.3 1460.5,543.1 1461.0,915.4 1461.5,541.5 1462.0,904.7 1462.5,541.2 1463.0,898.3 1463.5,541.0 1464.0,893.7 1464.5,541.0 1465.0,899.4 1465.5,554.0 1466.0,898.3 1466.5,565.5 1467.0,894.0 1467.5,559.0 1468.0,918.1 1468.5,538.8 1469.0,918.1 1469.5,531.5 1470.0,855.7 1470.5,526.8 1471.0,839.9 1471.5,526.5 1472.0,817.2 1472.5,526.1 1473.0,790.9 1473.5,448.8 1474.0,790.1 1474.5,416.1 1475.0,780.6 1475.5,386.0 1476.0,785.4 1476.5,385.7 1477.0,767.2 1477.5,399.0 1478.0,762.5 1478.5,396.1 1479.0,768.5 1479.5,412.6 1480.0,760.4 1480.5,391.8 1481.0,767.4 1481.5,389.4 1482.0,824.6 1482.5,363.8 1483.0,824.6 1483.5,363.8 1484.0,715.8 1484.5,363.8 1485.0,708.8 1485.5,363.7 1486.0,716.5 1486.5,369.7 1487.0,708.6 1487.5,365.6 1488.0,716.1 1488.5,364.4 1489.0,780.1 1489.5,351.6 1490.0,784.5 1490.5,358.0 1491.0,779.5 1491.5,352.2 1492.0,797.6 1492.5,350.4 1493.0,797.6 1493.5,342.9 1494.0,733.2 1494.5,336.3 1495.0,737.0 1495.5,329.2 1496.0,729.8 1496.5,332.5 1497.0,659.0 1497.5,315.7 1498.0,662.3 1498.5,318.3 1499.0,664.5 1499.5,317.2 1500.0,664.2 1500.5,274.6 1501.0,655.1 1501.5,263.8 1502.0,655.1 1502.5,265.0 1503.0,644.3 1503.5,264.0 1504.0,654.3 1504.5,258.3 1505.0,659.0 1505.5,247.1 1506.0,685.3 1506.5,250.0 1507.0,610.9 1507.5,206.8 1508.0,601.3 1508.5,206.8 1509.0,613.3 1509.5,242.1 1510.0,596.7 1510.5,237.7 1511.0,615.0 1511.5,238.7 1512.0,609.2 1512.5,248.3 1513.0,625.9 1513.5,248.8 1514.0,630.2 1514.5,248.3 1515.0,634.8 1515.5,256.8 1516.0,634.8 1516.5,256.5 1517.0,637.6 1517.5,164.2 1518.0,707.2 1518.5,163.9 1519.0,707.2 1519.5,163.7 1520.0,622.1 1520.5,228.3 1521.0,621.3 1521.5,234.3 1522.0,624.2 1522.5,232.6 1523.0,622.9 1523.5,227.9 1524.0,623.7 1524.5,117.4 1525.0,642.9 1525.5,117.4 1526.0,602.8 1526.5,183.0 1527.0,553.5 1527.5,178.9 1528.0,548.2 1528.5,183.0 1529.0,538.7 1529.5,165.8 1530.0,553.4 1530.5,160.9 1531.0,548.3 1531.5,160.7 1532.0,562.2 1532.5,183.8 1533.0,551.9 1533.5,184.7 1534.0,561.6 1534.5,179.8 1535.0,589.3 1535.5,181.6 1536.0,582.1 1536.5,165.2 1537.0,586.6 1537.5,165.0 1538.0,635.7 1538.5,164.8 1539.0,564.4 1539.5,213.1 1540.0,555.3 1540.5,213.2 1541.0,561.3 1541.5,213.1 1542.0,563.8 1542.5,225.4 1543.0,561.7 1543.5,213.8 1544.0,552.7 1544.5,178.8 1545.0,564.0 1545.5,178.8 1546.0,562.2 1546.5,244.5 1547.0,558.9 1547.5,239.8 1548.0,576.7 1548.5,248.2 1549.0,526.6 1549.5,215.8 1550.0,527.2 1550.5,196.5 1551.0,525.2 1551.5,142.5 1552.0,522.4 1552.5,77.6 1553.0,516.7 1553.5,61.3 1554.0,561.4 1554.5,61.3 1555.0,563.6 1555.5,153.4 1556.0,563.1 1556.5,153.9 1557.0,558.3 1557.5,162.5 1558.0,551.8 1558.5,148.2 1559.0,562.1 1559.5,163.4 1560.0,562.1 1560.5,146.4 1561.0,526.0 1561.5,146.2 1562.0,516.9 1562.5,140.0 1563.0,488.0 1563.5,132.1 1564.0,498.1 1564.5,132.1 1565.0,487.5 1565.5,136.7 1566.0,501.7 1566.5,149.2 1567.0,470.9 1567.5,150.7 1568.0,467.4 1568.5,156.7 1569.0,457.2 1569.5,166.1 1570.0,485.5 1570.5,166.3 1571.0,492.7 1571.5,184.0 1572.0,498.5 1572.5,187.0 1573.0,511.6 1573.5,188.7 1574.0,511.1 1574.5,136.0 1575.0,499.2 1575.5,84.8 1576.0,510.0 1576.5,56.9 1577.0,538.1 1577.5,56.9 1578.0,538.1 1578.5,160.3 1579.0,514.1 1579.5,148.6 1580.0,526.5 1580.5,145.5 1581.0,523.2 1581.5,145.5 1582.0,536.2 1582.5,145.5 1583.0,543.9 1583.5,185.3 1584.0,546.4 1584.5,176.2 1585.0,554.5 1585.5,170.4 1586.0,578.7 1586.5,206.1 1587.0,578.7 1587.5,220.8 1588.0,562.2 1588.5,218.5 1589.0,557.7 1589.5,216.1 1590.0,563.9 1590.5,216.1 1591.0,564.1 1591.5,184.1 1592.0,580.6 1592.5,196.0 1593.0,591.8 1593.5,187.5 1594.0,600.5 1594.5,188.6 1595.0,575.9 1595.5,174.6 1596.0,588.1 1596.5,174.6 1597.0,582.0 1597.5,192.5 1598.0,586.1 1598.5,202.3 1599.0,590.1 1599.5,192.1 1600.0,577.8 1600.5,202.9 1601.0,595.3 1601.5,203.5 1602.0,595.3 1602.5,202.7 1603.0,595.1 1603.5,202.7 1604.0,591.5 1604.5,202.7 1605.0,588.7 1605.5,208.2 1606.0,599.5 1606.5,183.3 1607.0,594.2 1607.5,166.3 1608.0,594.4 1608.5,166.3 1609.0,594.2 1609.5,230.3 1610.0,609.9 1610.5,234.1 1611.0,618.2 1611.5,230.1 1612.0,618.9 1612.5,230.3 1613.0,609.4 1613.5,230.5 1614.0,622.2 1614.5,230.7 1615.0,648.3 1615.5,274.9 1616.0,648.3 1616.5,259.3 1617.0,632.1 1617.5,276.1 1618.0,616.8 1618.5,259.2 1619.0,627.7 1619.5,300.0 1620.0,621.0 1620.5,283.8 1621.0,636.3 1621.5,283.7 1622.0,637.9 1622.5,283.9 1623.0,664.3 1623.5,292.7 1624.0,680.2 1624.5,259.7 1625.0,680.2 1625.5,259.7 1626.0,678.9 1626.5,266.0 1627.0,691.8 1627.5,251.5 1628.0,707.6 1628.5,251.5 1629.0,707.6 1629.5,304.6 1630.0,707.6 1630.5,302.5 1631.0,678.9 1631.5,317.2 1632.0,668.2 1632.5,307.6 1633.0,679.0 1633.5,311.1 1634.0,703.4 1634.5,318.2 1635.0,718.6 1635.5,322.7 1636.0,736.1 1636.5,310.0 1637.0,764.5 1637.5,275.4 1638.0,764.5 1638.5,275.4 1639.0,764.5 1639.5,326.1 1640.0,762.7 1640.5,328.0 1641.0,807.1 1641.5,326.6 1642.0,807.1 1642.5,317.2 1643.0,784.7 1643.5,295.2 1644.0,770.9 1644.5,308.7 1645.0,782.4 1645.5,307.4 1646.0,779.6 1646.5,302.6 1647.0,689.5 1647.5,302.5 1648.0,676.9 1648.5,315.6 1649.0,676.3 1649.5,307.5 1650.0,719.1 1650.5,291.0 1651.0,720.1 1651.5,291.0 1652.0,720.1 1652.5,312.6 1653.0,699.8 1653.5,306.7 1654.0,684.5 1654.5,304.2 1655.0,693.8 1655.5,304.4 1656.0,698.4 1656.5,395.6 1657.0,693.8 1657.5,394.5 1658.0,692.1 1658.5,394.0 1659.0,758.1 1659.5,375.2 1660.0,762.9 1660.5,375.2 1661.0,774.2 1661.5,390.4 1662.0,767.4 1662.5,392.9 1663.0,837.3 1663.5,403.5 1664.0,837.3 1664.5,364.4 1665.0,773.6 1665.5,338.8 1666.0,778.9 1666.5,338.8 1667.0,780.6 1667.5,388.1 1668.0,782.5 1668.5,438.4 1669.0,813.4 1669.5,436.6 1670.0,813.4 1670.5,436.5 1671.0,783.0 1671.5,431.1 1672.0,779.4 1672.5,431.2 1673.0,785.3 1673.5,435.2 1674.0,785.3 1674.5,442.2 1675.0,774.6 1675.5,448.9 1676.0,779.4 1676.5,448.7 1677.0,799.1 1677.5,433.7 1678.0,800.5 1678.5,426.9 1679.0,801.8 1679.5,426.9 1680.0,801.3 1680.5,459.4 1681.0,847.0 1681.5,459.4 1682.0,835.4 1682.5,476.9 1683.0,848.5 1683.5,465.0 1684.0,849.7 1684.5,467.1 1685.0,887.2 1685.5,471.4 1686.0,887.2 1686.5,472.6 1687.0,813.9 1687.5,474.0 1688.0,824.0 1688.5,485.3 1689.0,823.7 1689.5,469.5 1690.0,812.4 1690.5,469.5 1691.0,815.6 1691.5,490.1 1692.0,854.1 1692.5,509.5 1693.0,838.7 1693.5,508.0 1694.0,854.6 1694.5,514.1 1695.0,870.9 1695.5,547.6 1696.0,863.8 1696.5,545.1 1697.0,867.7 1697.5,534.5 1698.0,916.3 1698.5,524.9 1699.0,916.3 1699.5,479.0 1700.0,897.4 1700.5,416.5 1701.0,904.7 1701.5,416.5 1702.0,905.9 1702.5,531.5 1703.0,900.1 1703.5,542.4 1704.0,904.0 1704.5,560.1 1705.0,942.3 1705.5,552.0 1706.0,942.3 1706.5,550.6 1707.0,886.3 1707.5,551.2 1708.0,886.2 1708.5,555.5 1709.0,891.8 1709.5,560.4 1710.0,891.5 1710.5,553.5 1711.0,878.1 1711.5,544.8 1712.0,864.9 1712.5,489.8 1713.0,878.7 1713.5,476.8 1714.0,887.3 1714.5,547.5 1715.0,901.1 1715.5,544.1 1716.0,932.9 1716.5,541.6 1717.0,932.9 1717.5,546.1 1718.0,925.4 1718.5,522.2 1719.0,926.4 1719.5,517.3 1720.0,925.7 1720.5,517.3 1721.0,927.5 1721.5,563.8 1722.0,968.2 1722.5,557.5 1723.0,968.2 1723.5,556.8 1724.0,962.4 1724.5,571.7 1725.0,961.7 1725.5,558.2 1726.0,958.3 1726.5,561.6 1727.0,943.4 1727.5,528.8 1728.0,949.3 1728.5,528.8 1729.0,950.2 1729.5,587.9 1730.0,946.3 1730.5,599.7 1731.0,958.7 1731.5,585.2 1732.0,981.2 1732.5,604.1 1733.0,993.2 1733.5,588.4 1734.0,982.4 1734.5,586.7 1735.0,997.8 1735.5,598.9 1736.0,1033.7 1736.5,550.6 1737.0,1033.7 1737.5,550.6 1738.0,979.6 1738.5,602.0 1739.0,980.0 1739.5,590.9 1740.0,979.2 1740.5,598.9 1741.0,1017.7 1741.5,588.7 1742.0,1079.5 1742.5,588.7 1743.0,1079.5 1743.5,589.0 1744.0,1079.5 1744.5,636.3 1745.0,960.8 1745.5,671.4 1746.0,975.5 1746.5,659.1 1747.0,971.3 1747.5,675.3 1748.0,976.3 1748.5,675.0 1749.0,982.8 1749.5,624.8 1750.0,960.3 1750.5,615.4 1751.0,967.3 1751.5,590.8 1752.0,973.4 1752.5,567.5 1753.0,999.2 1753.5,577.2 1754.0,1016.1 1754.5,577.9 1755.0,1016.1 1755.5,558.9 1756.0,1016.1 1756.5,597.0 1757.0,968.1 1757.5,600.5 1758.0,953.8 1758.5,604.0 1759.0,956.4 1759.5,600.8 1760.0,962.3 1760.5,601.0 1761.0,930.0 1761.5,597.9 1762.0,943.9 1762.5,577.2 1763.0,940.5 1763.5,576.2 1764.0,941.8 1764.5,577.7 1765.0,937.6 1765.5,536.0 1766.0,949.4 1766.5,536.0 1767.0,953.5 1767.5,612.7 1768.0,965.1 1768.5,633.7 1769.0,964.6 1769.5,650.6 1770.0,955.3 1770.5,649.3 1771.0,967.6 1771.5,637.2 1772.0,958.3 1772.5,639.8 1773.0,963.3 1773.5,626.4 1774.0,1072.2 1774.5,637.0 1775.0,1072.2 1775.5,616.8 1776.0,1072.2 1776.5,616.8 1777.0,969.6 1777.5,607.3 1778.0,958.1 1778.5,596.3 1779.0,963.9 1779.5,596.3 1780.0,960.0 1780.5,618.8 1781.0,969.4 1781.5,617.9 1782.0,968.8 1782.5,623.3 1783.0,966.0 1783.5,556.0 1784.0,964.9 1784.5,504.8 1785.0,1011.9 1785.5,504.8 1786.0,1011.9 1786.5,540.9 1787.0,993.2 1787.5,550.0 1788.0,993.2 1788.5,532.9 1789.0,993.2 1789.5,532.9 1790.0,993.2 1790.5,602.1 1791.0,979.1 1791.5,600.7 1792.0,978.9 1792.5,598.4 1793.0,978.8 1793.5,591.1 1794.0,976.2 1794.5,591.1 1795.0,980.8 1795.5,622.3 1796.0,982.5 1796.5,630.0 1797.0,974.6 1797.5,636.3 1798.0,985.5 1798.5,633.7 1799.0,972.2 1799.5,607.3 1800.0,981.8 1800.5,581.8 1801.0,995.3 1801.5,581.8 1802.0,981.3 1802.5,613.7 1803.0,973.1 1803.5,627.9 1804.0,974.1 1804.5,622.3 1805.0,961.1 1805.5,622.2 1806.0,965.0 1806.5,632.7 1807.0,968.7 1807.5,600.1 1808.0,958.5 1808.5,586.3 1809.0,934.6 1809.5,584.0 1810.0,921.2 1810.5,581.0 1811.0,938.4 1811.5,571.9 1812.0,938.1 1812.5,568.1 1813.0,918.0 1813.5,572.2 1814.0,926.4 1814.5,564.6 1815.0,918.2 1815.5,565.4 1816.0,933.3 1816.5,552.7 1817.0,942.3 1817.5,552.7 1818.0,942.3 1818.5,552.7 1819.0,923.8 1819.5,565.1 1820.0,923.9 1820.5,560.0 1821.0,914.9 1821.5,526.7 1822.0,928.2 1822.5,526.7 1823.0,937.1 1823.5,555.7 1824.0,916.3 1824.5,552.0 1825.0,917.2 1825.5,564.5 1826.0,924.1 1826.5,554.2 1827.0,923.8 1827.5,548.7 1828.0,923.6 1828.5,546.4 1829.0,903.8 1829.5,579.3 1830.0,907.6 1830.5,585.1 1831.0,901.5 1831.5,586.9 1832.0,915.4 1832.5,582.4 1833.0,994.2 1833.5,593.8 1834.0,994.2 1834.5,571.5 1835.0,974.9 1835.5,560.7 1836.0,974.3 1836.5,560.7 1837.0,979.1 1837.5,556.2 1838.0,942.3 1838.5,561.2 1839.0,943.3 1839.5,544.2 1840.0,944.2 1840.5,547.6 1841.0,940.6 1841.5,541.5 1842.0,934.2 1842.5,541.6 1843.0,898.9 1843.5,443.5 1844.0,899.9 1844.5,443.5 1845.0,899.4 1845.5,484.0 1846.0,901.2 1846.5,495.0 1847.0,904.8 1847.5,492.4 1848.0,902.3 1848.5,488.7 1849.0,895.0 1849.5,509.9 1850.0,892.8 1850.5,515.8 1851.0,868.8 1851.5,516.4 1852.0,874.5 1852.5,517.1 1853.0,870.1 1853.5,507.9 1854.0,867.2 1854.5,508.2 1855.0,904.7 1855.5,511.4 1856.0,923.5 1856.5,504.3 1857.0,923.5 1857.5,503.8 1858.0,903.8 1858.5,503.8 1859.0,905.9 1859.5,573.8 1860.0,913.6 1860.5,556.8 1861.0,899.4 1861.5,566.1 1862.0,908.5 1862.5,548.1 1863.0,917.5 1863.5,545.3 1864.0,941.2 1864.5,545.5 1865.0,941.2 1865.5,494.5 1866.0,941.2 1866.5,494.5 1867.0,896.7 1867.5,510.4 1868.0,896.0 1868.5,506.0 1869.0,901.0 1869.5,512.7 1870.0,911.7 1870.5,581.2 1871.0,917.3 1871.5,584.5 1872.0,917.1 1872.5,571.5 1873.0,912.3 1873.5,566.4 1874.0,913.1 1874.5,540.5 1875.0,905.3 1875.5,536.5 1876.0,929.8 1876.5,547.5 1877.0,929.8 1877.5,511.1 1878.0,909.5 1878.5,512.6 1879.0,916.9 1879.5,516.3 1880.0,902.5 1880.5,516.8 1881.0,911.3 1881.5,550.3 1882.0,917.8 1882.5,597.1 1883.0,914.1 1883.5,622.5 1884.0,923.3 1884.5,620.2 1885.0,916.4 1885.5,630.2 1886.0,920.2 1886.5,615.3 1887.0,930.4 1887.5,584.7 1888.0,1005.7 1888.5,543.5 1889.0,1005.7 1889.5,539.1 1890.0,1005.7 1890.5,601.4 1891.0,926.3 1891.5,609.3 1892.0,938.0 1892.5,600.3 1893.0,938.4 1893.5,604.2 1894.0,938.2 1894.5,601.9 1895.0,937.9 1895.5,600.5 1896.0,924.0 1896.5,619.9 1897.0,970.6 1897.5,629.2 1898.0,978.9 1898.5,614.0 1899.0,979.8 1899.5,614.0 1900.0,991.1 1900.5,614.0 1901.0,991.1 1901.5,615.4 1902.0,991.1 1902.5,621.7 1903.0,934.8 1903.5,544.2 1904.0,939.5 1904.5,508.0 1905.0,939.5 1905.5,508.0 1906.0,943.5 1906.5,556.2 1907.0,947.5 1907.5,542.4 1908.0,947.5 1908.5,542.3 1909.0,940.1 1909.5,589.7 1910.0,946.1 1910.5,604.8 1911.0,944.2 1911.5,608.7 1912.0,957.9 1912.5,613.1 1913.0,992.2 1913.5,619.0 1914.0,992.2 1914.5,616.3 1915.0,992.2 1915.5,613.8 1916.0,976.7 1916.5,619.3 1917.0,976.5 1917.5,641.1 1918.0,975.3 1918.5,630.9 1919.0,968.3 1919.5,632.4 1920.0,981.0 1920.5,630.0 1921.0,981.0 1921.5,630.2 1922.0,978.1 1922.5,630.4 1923.0,971.7 1923.5,632.4 1924.0,1018.3 1924.5,648.6 1925.0,1029.3 1925.5,657.0 1926.0,1025.0 1926.5,653.0 1927.0,1043.1 1927.5,650.4 1928.0,1043.1 1928.5,650.4 1929.0,1030.0 1929.5,650.4 1930.0,1042.9 1930.5,666.3 1931.0,1116.9 1931.5,670.1 1932.0,1116.9 1932.5,668.2 1933.0,1116.9 1933.5,665.0 1934.0,1116.9 1934.5,671.9 1935.0,1014.1 1935.5,653.7 1936.0,1021.4 1936.5,654.7 1937.0,1013.5 1937.5,657.0 1938.0,1019.9 1938.5,620.9 1939.0,1025.4 1939.5,542.3 1940.0,1025.4 1940.5,542.3 1941.0,969.5 1941.5,542.3 1942.0,981.5 1942.5,578.8 1943.0,972.3 1943.5,566.2 1944.0,982.3 1944.5,580.4 1945.0,983.6 1945.5,563.8 1946.0,1015.7 1946.5,575.4 1947.0,1066.0 1947.5,560.1 1948.0,1066.0 1948.5,564.9 1949.0,938.9 1949.5,567.7 1950.0,941.4 1950.5,554.4 1951.0,927.8 1951.5,565.3 1952.0,939.9 1952.5,558.2 1953.0,952.1 1953.5,496.5 1954.0,948.6 1954.5,496.5 1955.0,955.5 1955.5,587.6 1956.0,952.7 1956.5,582.3 1957.0,954.7 1957.5,585.0 1958.0,982.8 1958.5,572.9 1959.0,982.7 1959.5,569.3 1960.0,981.9 1960.5,569.3 1961.0,1069.1 1961.5,605.8 1962.0,1069.1 1962.5,598.7 1963.0,1018.8 1963.5,598.4 1964.0,1008.3 1964.5,605.3 1965.0,1022.3 1965.5,600.4 1966.0,1022.3 1966.5,599.0 1967.0,1022.3 1967.5,599.0 1968.0,1022.3 1968.5,599.0 1969.0,1022.3 1969.5,599.0 1970.0,1022.3" fill="none" stroke="#58AD16" stroke-width="4.6" stroke-linejoin="round" stroke-linecap="round"/>
<polyline points="270.0,752.6 273.1,753.2 276.2,752.4 278.7,752.8 281.1,752.5 283.5,750.4 285.9,749.8 288.4,752.1 290.8,749.9 293.6,749.3 296.3,751.3 299.1,749.1 301.9,749.7 304.7,748.0 307.4,748.0 310.1,746.6 312.8,748.3 315.4,749.2 318.1,748.3 320.8,749.1 323.5,749.0 326.1,747.2 328.9,750.0 331.7,750.0 334.4,749.6 337.2,749.2 340.0,752.4 342.8,751.7 345.4,752.7 348.0,753.4 350.6,753.1 353.2,753.9 355.8,752.4 358.4,754.0 361.0,753.0 363.6,754.8 366.2,754.5 368.8,752.0 371.4,752.0 374.0,752.2 376.5,754.5 379.1,752.7 381.7,753.3 384.3,752.1 386.8,753.2 389.2,753.1 391.6,753.3 394.0,754.4 396.5,754.8 398.9,756.2 401.4,754.6 403.9,754.6 406.4,753.5 408.9,753.1 411.4,751.3 413.9,749.5 416.4,751.6 418.9,751.8 421.4,751.4 423.8,750.2 426.3,750.5 428.8,748.8 431.3,750.6 433.8,749.6 436.3,748.6 438.9,747.6 441.5,749.9 444.1,750.0 446.7,746.9 449.3,748.9 451.9,747.4 454.5,746.3 457.1,746.5 459.7,748.2 462.3,748.7 464.9,746.3 467.5,748.3 470.1,746.6 472.7,749.0 475.3,747.9 477.9,749.8 480.4,751.0 482.9,750.3 485.4,752.7 487.9,751.3 490.4,751.4 493.1,752.4 495.9,749.9 498.7,749.7 501.5,749.7 504.2,749.7 507.0,747.5 509.5,748.0 512.0,751.5 514.5,750.5 517.0,753.4 519.5,754.1 522.1,752.6 524.7,753.0 527.3,753.4 529.9,754.0 532.5,754.0 535.1,754.1 537.7,754.4 540.3,755.7 542.9,754.5 545.5,754.4 548.1,755.6 550.7,754.2 553.3,754.6 555.9,757.0 558.5,755.8 561.1,756.1 563.7,754.5 566.3,755.9 568.9,756.6 571.5,754.9 574.1,756.9 576.7,757.1 579.3,755.4 581.9,757.4 584.3,757.5 586.7,758.9 589.1,758.6 591.6,760.4 594.0,761.2 596.4,759.6 599.2,759.2 601.9,760.8 604.7,761.2 607.5,758.5 610.3,758.7 613.0,758.7 615.6,757.6 618.2,757.6 620.8,757.3 623.4,757.3 626.0,757.8 628.6,756.7 631.2,756.7 633.8,757.8 636.4,755.6 639.0,757.4 641.6,758.1 644.2,756.9 646.8,756.7 649.4,758.7 652.0,757.0 654.6,757.0 657.2,757.8 659.8,758.7 662.4,756.9 665.0,757.6 667.6,757.7 670.2,759.4 672.8,758.2 675.4,759.5 678.1,757.4 680.8,758.1 683.4,759.1 686.1,760.0 688.8,758.7 691.4,758.1 694.1,757.8 695.0,761.6 697.6,759.9 700.2,761.2 702.8,760.7 705.4,757.9 708.0,757.6 710.6,758.6 713.2,757.4 715.8,757.3 718.4,755.3 721.0,754.1 723.6,754.1 726.2,755.2 728.8,753.0 731.4,752.7 734.0,752.4 736.6,751.9 739.2,751.6 741.8,753.0 744.4,750.3 747.0,749.5 749.6,752.3 752.2,751.8 754.8,751.9 757.4,749.9 760.0,751.5 762.6,751.5 765.2,749.2 767.8,750.9 770.4,751.2 773.0,750.6 775.6,750.2 778.2,749.4 780.6,749.9 783.0,749.9 785.4,749.8 787.9,751.8 790.3,751.1 792.7,753.2 795.2,750.1 797.7,752.2 800.2,750.9 802.7,751.0 805.2,750.3 808.0,747.2 810.7,744.4 813.5,738.6 816.6,738.8 819.7,733.3 822.3,735.5 824.9,732.4 827.5,735.2 830.1,732.1 832.7,734.0 835.3,729.3 837.9,730.9 840.5,727.0 842.6,732.1 844.7,731.0 847.8,735.7 850.9,734.2 853.5,736.8 856.1,734.0 858.7,737.3 861.3,734.3 864.4,736.2 867.6,731.6 870.2,736.5 872.8,734.3 875.4,738.4 878.0,737.1 880.4,740.6 882.8,737.9 885.2,740.5 887.7,738.1 890.1,741.0 892.5,738.3 895.3,741.1 898.0,738.0 900.8,738.1 903.6,738.3 906.4,738.5 909.1,738.5 912.3,740.4 915.4,745.4 918.5,742.9 921.6,738.4 924.7,740.7 927.8,741.2 930.4,740.4 933.0,739.7 935.6,739.9 938.2,738.9 941.4,739.3 944.5,739.7 947.1,741.7 949.7,742.7 952.3,745.6 954.9,747.7 957.5,747.9 960.1,748.2 962.7,749.8 965.3,751.8 968.0,754.2 970.8,756.5 973.6,757.0 976.4,759.7 979.1,760.5 981.9,761.3 984.7,762.2 987.4,763.6 990.2,766.6 993.0,763.7 995.8,767.9 998.5,765.1 1001.3,768.2 1004.1,765.0 1006.9,768.6 1009.6,765.4 1012.4,768.4 1015.2,765.1 1017.9,767.4 1020.7,761.8 1023.5,764.1 1026.3,758.7 1029.0,761.1 1031.8,755.9 1034.3,758.0 1036.8,754.0 1039.3,756.3 1041.8,751.3 1044.3,754.3 1046.7,750.0 1049.1,753.7 1051.5,749.7 1054.0,753.2 1056.4,750.0 1058.8,752.9 1061.4,748.0 1064.0,746.9 1066.6,747.3 1069.2,743.4 1071.8,743.3 1074.4,743.1 1077.0,745.3 1079.6,742.8 1082.2,740.8 1084.8,741.8 1087.4,738.0 1090.0,738.7 1092.6,737.7 1095.2,737.7 1097.8,737.5 1100.4,735.8 1103.0,736.0 1105.6,733.0 1108.2,734.8 1110.8,733.5 1113.6,734.8 1116.3,733.6 1119.1,736.3 1120.0,739.2 1123.1,734.8 1126.2,734.1 1129.4,733.0 1132.5,739.9 1135.2,735.5 1138.0,740.9 1140.8,737.6 1143.9,744.2 1147.0,739.9 1150.1,744.4 1153.3,738.5 1156.0,743.4 1158.8,738.5 1161.6,743.4 1164.4,740.6 1167.1,747.0 1169.9,742.7 1173.0,749.6 1176.1,745.1 1179.3,751.8 1182.4,748.4 1185.1,756.0 1187.9,755.3 1190.7,756.5 1193.5,756.4 1196.2,756.9 1199.0,757.7 1201.8,756.7 1204.5,758.0 1207.3,761.4 1210.1,763.7 1212.9,764.2 1215.6,765.6 1218.4,766.2 1221.2,764.1 1224.0,764.0 1226.7,763.5 1229.5,764.4 1232.3,763.2 1234.8,763.3 1237.3,765.2 1239.8,766.5 1242.2,764.8 1244.7,766.5 1247.2,764.7 1249.7,765.3 1252.2,763.6 1254.7,761.8 1257.2,760.8 1259.7,759.9 1262.2,761.2 1264.7,760.7 1267.2,759.8 1269.7,760.2 1272.2,760.1 1274.7,761.5 1277.2,759.5 1279.7,762.2 1282.2,760.6 1284.6,760.8 1287.0,760.2 1289.4,761.2 1291.9,761.0 1294.3,760.0 1296.7,759.5 1299.1,760.1 1301.6,760.4 1304.0,758.8 1306.4,759.6 1308.8,760.2 1311.3,758.5 1314.0,757.3 1316.8,757.0 1319.6,758.2 1322.4,757.7 1325.1,758.3 1327.9,757.6 1330.4,755.2 1332.9,754.7 1335.4,754.5 1337.9,753.8 1340.4,755.1 1342.9,754.9 1345.4,754.4 1347.9,751.7 1350.4,753.1 1352.8,750.7 1355.3,751.2 1357.8,752.4 1360.3,750.6 1362.8,750.8 1365.3,753.4 1367.9,750.6 1370.5,749.8 1373.1,749.5 1375.7,748.7 1378.8,745.5 1382.0,745.6 1384.7,746.9 1387.5,748.1 1390.3,748.3 1393.0,748.8 1395.8,749.3 1398.6,746.8 1401.2,747.3 1403.8,745.9 1406.4,746.4 1409.0,747.6 1411.8,746.9 1414.5,750.4 1417.3,751.5 1419.9,747.9 1422.5,749.6 1425.1,746.7 1427.7,747.0 1430.5,746.6 1433.2,744.7 1436.0,745.6 1438.6,746.1 1441.2,747.1 1443.8,745.9 1446.4,747.9 1449.0,749.4 1451.6,749.2 1454.2,749.6 1456.8,749.0 1459.3,749.8 1461.8,748.9 1464.3,749.7 1466.8,749.1 1469.3,748.4 1471.9,747.9 1474.5,750.2 1477.1,750.9 1479.7,750.3 1482.3,753.0 1484.9,752.8 1487.5,751.6 1490.1,754.7 1492.7,753.2 1495.3,754.9 1497.9,757.2 1500.5,757.8 1503.2,758.0 1506.0,758.7 1508.8,758.4 1511.9,757.4 1515.0,756.5 1517.6,756.9 1520.2,759.8 1522.8,760.7 1525.4,760.8 1528.0,761.7 1530.6,760.7 1533.2,760.7 1535.8,761.3 1538.6,762.9 1541.3,760.2 1544.1,761.7 1545.0,761.3 1547.6,763.0 1550.2,761.7 1552.8,761.6 1555.4,761.8 1558.0,762.3 1560.6,763.0 1563.2,761.7 1565.8,763.3 1568.4,760.6 1571.0,760.9 1573.6,760.1 1576.2,759.9 1578.8,761.7 1581.4,761.3 1584.0,759.3 1586.6,759.1 1589.3,759.6 1592.0,760.4 1594.7,760.4 1597.4,760.0 1600.1,759.3 1602.8,757.7 1605.5,758.3 1608.2,757.4 1610.9,758.3 1613.6,758.2 1616.0,757.7 1618.5,758.6 1620.9,761.0 1623.3,759.3 1625.7,762.4 1628.2,763.4 1630.9,763.4 1633.7,761.4 1636.5,761.8 1639.2,761.7 1642.0,761.7 1644.8,762.6 1647.3,761.1 1649.8,759.2 1652.3,760.4 1654.8,758.6 1657.3,758.3 1659.8,758.9 1662.3,756.8 1664.8,759.5 1667.2,759.3 1669.7,759.0 1672.2,758.3 1674.7,757.2 1677.2,755.5 1679.7,755.8 1682.2,753.4 1684.7,754.2 1687.2,754.1 1689.7,752.8 1692.2,752.6 1694.7,753.2 1697.5,753.0 1700.2,750.6 1703.0,752.7 1705.8,752.1 1708.5,750.3 1711.3,751.3 1714.1,750.5 1716.9,749.7 1719.6,750.8 1722.4,751.7 1725.2,749.4 1728.0,750.9 1730.7,750.5 1733.5,748.8 1736.3,751.3 1739.0,750.7 1741.8,751.9 1744.6,751.4 1747.4,751.1 1750.1,749.5 1752.9,750.6 1755.7,750.7 1758.4,750.1 1761.2,748.4 1763.7,749.0 1766.2,747.7 1768.7,746.1 1771.2,745.5 1773.7,745.2 1776.2,745.4 1778.7,745.0 1781.2,745.9 1783.7,746.4 1786.2,745.6 1788.7,745.7 1791.2,746.8 1793.6,746.1 1796.1,747.1 1798.6,748.4 1801.4,747.6 1804.2,747.3 1807.0,749.9 1809.7,749.7 1812.5,748.9 1815.3,749.3 1817.9,750.2 1820.5,750.8 1823.1,750.0 1825.7,749.6 1828.3,750.7 1830.9,752.9 1833.5,751.3 1836.1,752.7 1838.7,751.6 1841.3,751.3 1843.9,751.0 1846.5,751.4 1849.1,750.4 1851.7,749.7 1854.3,749.7 1856.9,749.6 1859.4,750.9 1862.0,749.8 1864.6,750.0 1867.2,751.6 1869.8,751.7 1872.4,752.9 1875.0,751.1 1877.6,752.5 1880.4,752.1 1883.2,750.6 1886.0,753.2 1888.7,750.5 1891.5,749.8 1894.3,750.6 1897.0,750.0 1899.8,751.8 1902.6,751.3 1905.4,750.9 1908.1,751.0 1910.9,753.5 1913.6,751.3 1916.3,752.2 1918.9,750.4 1921.6,751.2 1924.3,748.4 1926.9,747.5 1929.6,746.8 1932.3,748.6 1935.0,748.0 1937.6,747.1 1940.3,746.3 1943.0,748.2 1945.7,749.1 1948.3,747.9 1951.0,746.3 1953.7,746.7 1956.3,747.2 1959.0,747.7 1961.7,747.6 1964.4,747.9 1967.0,749.7" fill="none" stroke="#0072BD" stroke-width="5.4" stroke-linejoin="round" stroke-linecap="round"/>
<polyline points="275.8,779.1 277.3,778.5 280.0,777.6 282.7,777.1 285.4,775.4 288.1,774.9 290.8,770.9 293.6,771.1 296.3,771.6 299.1,769.3 301.9,769.0 304.7,765.1 307.4,765.1 309.8,764.2 312.3,765.0 314.7,764.9 317.1,762.8 319.5,763.4 322.0,763.4 324.6,765.3 327.2,764.5 329.8,762.2 332.4,764.1 335.0,761.6 337.6,763.0 340.2,761.1 342.8,760.4 345.4,763.5 348.0,761.4 350.6,761.5 353.2,764.2 355.8,764.0 358.4,762.1 361.0,764.6 363.6,763.3 366.2,763.6 368.8,761.9 371.4,764.2 374.0,763.2 376.5,764.1 379.1,763.7 381.7,761.5 384.3,761.6 386.9,761.5 389.5,761.9 392.1,762.2 394.7,763.5 397.3,764.8 399.9,763.0 402.5,765.5 405.1,764.6 407.7,763.8 410.3,764.7 412.9,762.8 415.5,761.5 417.8,761.5 420.1,761.7 419.0,761.5 420.2,748.1 420.8,780.4 422.0,747.3 422.6,802.2 423.4,768.4 424.5,767.0 428.0,765.8 430.7,767.1 433.4,765.8 436.0,766.5 438.7,767.5 441.4,770.8 444.0,768.8 446.7,771.3 449.3,772.4 451.9,772.9 454.5,771.4 457.1,772.0 459.7,773.1 462.3,774.5 464.9,772.7 467.5,775.4 470.1,776.2 472.7,777.1 475.3,774.9 477.9,778.7 480.5,776.4 483.1,777.9 485.7,779.5 488.3,781.2 490.8,779.6 493.3,782.0 495.8,781.2 498.3,780.8 500.8,781.2 503.4,780.1 506.1,779.2 508.8,778.9 511.5,780.1 514.1,780.5 516.8,777.1 519.5,776.1 522.1,778.5 524.7,776.2 527.3,775.0 529.9,773.7 532.5,774.1 535.1,774.1 537.7,772.1 540.3,771.2 542.9,770.1 545.5,773.1 548.1,770.2 550.7,771.9 553.3,773.2 555.9,771.0 558.5,773.1 561.1,774.0 563.7,772.9 566.3,773.5 568.9,771.1 571.5,772.3 574.1,771.3 576.7,773.6 579.3,771.8 581.9,772.3 584.4,774.0 587.0,773.4 589.6,773.7 592.2,771.8 594.8,771.8 597.4,772.5 600.0,771.5 602.6,770.7 605.2,771.8 607.8,771.5 610.4,773.0 613.0,775.7 615.6,776.2 618.2,775.8 620.8,776.0 623.4,776.1 626.0,775.4 628.6,776.1 631.2,778.0 633.8,778.4 636.4,776.8 639.0,778.4 641.6,778.5 644.2,778.3 646.8,778.0 649.4,778.0 652.0,776.4 654.6,777.3 657.2,775.6 659.8,776.1 662.4,776.8 665.0,776.2 667.6,775.0 670.2,777.4 672.8,776.5 675.4,776.4 678.0,774.6 680.6,776.5 683.2,775.7 685.8,777.2 688.6,776.5 691.3,777.7 694.1,777.1 695.0,776.1 697.6,774.5 700.2,775.5 702.8,775.9 705.4,776.2 708.0,774.5 710.6,776.2 713.2,776.3 715.8,775.7 718.4,776.5 721.0,776.3 723.6,774.7 726.2,774.6 728.8,773.3 731.4,775.4 734.0,775.6 736.6,773.9 739.2,774.3 741.8,774.0 744.4,773.6 747.0,771.3 749.6,773.0 752.2,771.9 754.8,771.8 757.4,770.6 760.0,770.8 762.6,770.8 765.2,769.8 767.8,769.6 770.4,766.7 773.0,766.6 775.6,767.0 778.2,767.2 780.6,765.4 783.0,766.7 785.4,766.1 787.9,763.8 790.3,764.9 792.7,763.7 795.8,764.2 799.0,765.5 801.7,765.1 804.5,763.6 807.3,762.6 810.0,760.6 812.8,760.7 815.6,759.0 818.1,759.4 820.6,758.9 823.1,757.3 825.6,759.2 828.1,755.7 830.6,756.6 833.0,755.8 835.5,755.8 838.0,754.4 840.5,756.4 843.6,757.5 846.8,758.9 849.5,762.3 852.3,761.9 855.1,764.8 857.7,763.3 860.3,763.4 862.9,763.9 865.5,762.6 868.1,761.3 870.7,762.6 873.3,762.0 875.9,761.1 878.5,760.3 881.1,761.9 883.7,761.7 886.3,763.1 889.0,764.9 891.8,765.4 894.6,766.2 897.2,769.1 899.8,767.1 902.4,768.5 905.0,771.1 907.6,771.3 910.2,769.7 912.8,771.3 915.4,772.2 918.1,770.8 920.9,771.3 923.7,771.0 926.8,770.7 929.9,772.5 932.7,772.2 935.5,775.9 938.2,777.5 941.4,778.5 944.5,779.4 947.1,783.2 949.7,782.8 952.3,783.8 954.9,784.8 957.5,787.6 960.1,786.4 962.7,786.3 965.3,787.4 968.0,785.5 970.8,786.5 973.6,785.2 976.4,782.3 979.1,781.5 981.9,779.3 984.0,772.3 986.1,770.0 989.2,756.6 992.3,748.5 994.4,739.6 996.5,729.5 998.5,722.3 1000.6,714.6 1002.7,709.1 1004.8,698.5 1005.8,695.4 1008.4,677.9 1011.0,661.4 1013.6,653.0 1016.2,645.2 1018.6,631.9 1021.1,623.0 1023.5,610.4 1025.6,593.5 1027.6,575.2 1030.2,561.5 1032.8,548.8 1035.4,534.0 1038.0,519.1 1041.2,509.0 1044.3,497.0 1046.4,485.8 1048.4,477.2 1050.5,471.6 1052.6,466.9 1054.7,463.7 1056.7,459.4 1059.9,451.4 1061.9,458.2 1065.1,454.9 1068.2,472.0 1071.3,476.6 1074.4,481.6 1076.5,477.4 1078.6,475.2 1080.7,469.3 1082.7,465.2 1085.9,462.6 1089.0,464.5 1092.1,471.1 1095.2,491.6 1098.3,505.6 1100.4,518.6 1102.5,528.6 1105.1,538.1 1107.7,548.0 1110.3,554.8 1112.9,560.5 1115.0,566.2 1117.0,575.6 1119.9,590.4 1120.0,579.0 1122.1,591.9 1124.2,604.8 1126.2,619.8 1128.3,634.1 1130.4,643.0 1132.5,655.0 1134.6,666.1 1136.6,674.3 1138.7,682.2 1141.8,687.3 1144.9,696.9 1148.1,703.0 1151.2,709.0 1154.3,709.2 1157.4,717.3 1159.5,720.5 1161.6,731.0 1164.7,729.5 1167.8,736.0 1170.9,735.7 1174.1,743.4 1177.2,746.5 1180.3,756.7 1183.4,758.1 1186.5,766.8 1188.6,765.1 1190.7,770.4 1192.8,763.8 1194.8,764.1 1197.6,760.6 1200.4,763.1 1203.2,759.2 1206.3,766.2 1209.4,767.0 1212.5,774.2 1215.6,772.9 1218.4,776.0 1221.2,772.0 1224.0,774.8 1226.7,769.1 1229.5,770.8 1232.3,764.5 1235.0,770.0 1237.8,768.3 1240.6,773.1 1243.4,770.9 1246.1,775.8 1248.9,773.3 1251.7,776.8 1254.4,771.9 1257.2,775.1 1260.0,770.1 1262.8,772.3 1265.5,767.4 1268.3,772.1 1271.1,769.2 1273.8,773.5 1277.0,771.5 1280.1,775.9 1282.6,771.0 1285.1,773.6 1287.6,768.9 1290.1,772.0 1292.6,767.5 1295.0,770.8 1297.4,767.2 1299.8,769.9 1302.3,768.6 1304.7,767.2 1307.1,769.2 1309.6,767.2 1312.1,766.1 1314.6,767.0 1317.1,763.8 1319.6,765.6 1322.1,763.3 1324.6,763.6 1327.1,766.3 1329.6,765.4 1332.1,763.9 1334.8,762.8 1337.6,765.0 1340.4,763.3 1343.1,761.7 1345.9,757.3 1348.7,756.9 1351.5,756.7 1354.2,757.0 1357.0,758.0 1359.4,760.3 1361.9,760.8 1364.3,762.3 1366.7,759.4 1369.1,759.7 1371.6,757.0 1373.9,755.2 1376.2,751.6 1378.6,750.7 1380.9,747.2 1383.3,749.2 1385.8,750.8 1388.2,753.1 1391.0,753.3 1393.7,753.7 1396.5,754.9 1399.6,752.3 1402.7,748.7 1405.5,752.3 1408.3,751.6 1411.1,753.2 1413.8,752.7 1416.6,756.4 1419.4,759.9 1422.1,758.6 1424.9,757.6 1427.7,757.4 1430.5,756.8 1433.2,757.7 1436.0,758.4 1438.8,760.9 1441.6,762.7 1444.3,766.1 1447.1,765.0 1449.9,766.7 1452.6,768.2 1455.2,768.8 1457.8,770.3 1460.4,771.2 1463.0,773.0 1465.6,773.3 1468.2,778.2 1470.8,778.1 1473.4,781.9 1476.2,782.1 1479.0,783.1 1481.7,783.4 1484.5,785.0 1487.3,782.2 1490.1,784.1 1492.8,784.2 1495.6,786.9 1498.4,788.4 1501.2,787.9 1503.9,789.4 1506.7,790.2 1509.5,790.6 1512.2,789.7 1515.0,790.4 1518.1,792.4 1521.2,790.3 1524.4,792.7 1527.5,795.9 1530.3,797.0 1533.0,800.2 1535.8,801.9 1538.6,800.0 1541.3,800.3 1544.1,801.8 1545.0,802.9 1547.8,801.4 1550.5,800.1 1553.3,801.4 1556.1,797.6 1558.9,797.3 1561.6,799.2 1564.1,798.8 1566.6,798.4 1569.1,800.9 1571.6,803.3 1574.1,802.5 1576.7,800.4 1579.3,797.9 1581.9,796.3 1584.5,797.5 1587.2,795.7 1589.8,796.8 1592.5,793.3 1595.2,793.5 1597.9,792.4 1600.5,793.2 1603.2,791.6 1605.6,792.1 1608.1,792.4 1610.5,791.9 1612.9,790.8 1615.3,790.6 1617.8,793.6 1620.5,790.2 1623.3,790.7 1626.1,789.6 1628.9,789.4 1631.6,787.1 1634.4,787.2 1636.8,785.8 1639.2,786.6 1641.7,787.2 1644.1,785.4 1646.5,785.6 1649.0,782.7 1651.4,781.2 1653.9,782.2 1656.4,781.2 1658.9,780.6 1661.4,779.1 1663.9,779.6 1666.4,779.5 1668.9,779.7 1671.4,777.2 1673.9,777.3 1676.4,777.5 1678.9,774.5 1681.4,773.0 1683.9,772.7 1686.4,770.9 1688.9,772.2 1691.4,771.3 1693.9,768.5 1696.4,766.9 1698.8,765.7 1702.0,765.7 1705.1,764.6 1708.2,767.9 1711.3,770.5 1714.4,768.8 1717.6,767.7 1720.0,769.3 1722.4,766.6 1724.8,766.6 1727.3,766.4 1729.7,766.1 1732.1,764.7 1734.7,765.9 1737.3,765.7 1739.9,767.3 1742.5,766.7 1745.1,768.0 1747.7,767.3 1750.3,767.8 1752.9,767.3 1755.5,767.0 1758.1,768.4 1760.7,768.0 1763.3,769.1 1765.9,768.5 1768.5,768.5 1771.1,767.2 1773.7,769.2 1776.3,768.0 1778.9,767.4 1781.5,767.4 1784.1,768.0 1786.7,768.6 1789.3,770.3 1791.9,769.2 1794.5,768.7 1797.0,771.9 1799.5,772.1 1802.0,771.1 1804.5,772.0 1807.0,773.1 1809.6,774.6 1812.2,777.1 1814.8,778.2 1817.3,777.9 1820.0,776.3 1822.7,776.6 1825.4,776.1 1828.0,775.7 1830.7,774.3 1833.4,776.0 1836.1,776.5 1838.7,776.2 1841.3,774.0 1843.9,775.5 1846.5,774.3 1849.1,776.1 1851.7,775.2 1854.3,776.9 1856.9,776.4 1859.4,774.0 1862.0,774.5 1864.6,776.4 1867.2,774.7 1869.8,774.5 1872.4,774.4 1875.0,775.4 1877.6,775.8 1880.2,773.9 1882.8,774.9 1885.4,773.1 1888.0,770.9 1890.6,773.9 1893.2,773.0 1895.8,772.3 1898.4,776.0 1901.2,773.8 1904.0,776.7 1906.7,777.4 1909.2,777.7 1911.7,775.0 1914.2,773.4 1916.7,772.6 1919.2,771.3 1921.8,772.6 1924.4,772.1 1927.0,773.5 1929.6,771.9 1932.2,772.4 1934.8,772.2 1937.4,774.8 1940.0,774.5 1942.5,774.9 1945.0,774.5 1947.5,774.2 1950.0,773.8 1952.5,776.5 1954.9,775.2 1957.3,773.5 1959.8,773.8 1962.2,773.3 1964.6,775.3 1967.0,774.4" fill="none" stroke="#F9510A" stroke-width="5.4" stroke-linejoin="round" stroke-linecap="round"/>
</g>
<g font-family="'Liberation Serif', 'Times New Roman', serif" font-size="90" fill="#1f1f1f">
<text transform="translate(276.5,1659.6) scale(0.96,1)" text-anchor="middle">85</text>
<text transform="translate(699.6,1659.6) scale(0.96,1)" text-anchor="middle">90</text>
<text transform="translate(1121.8,1659.6) scale(0.96,1)" text-anchor="middle">95</text>
<text transform="translate(1545.4,1659.6) scale(0.96,1)" text-anchor="middle">100</text>
<text transform="translate(1967.5,1659.6) scale(0.96,1)" text-anchor="middle">105</text>
<text transform="translate(251.5,1390.0) scale(0.96,1)" text-anchor="end">0.6</text>
<text transform="translate(251.5,1087.2) scale(0.96,1)" text-anchor="end">0.8</text>
<text transform="translate(250.0,784.4) scale(0.96,1)" text-anchor="end">1</text>
<text transform="translate(251.0,481.6) scale(0.96,1)" text-anchor="end">1.2</text>
<text transform="translate(251.5,178.8) scale(0.96,1)" text-anchor="end">1.4</text>
</g>
<g font-family="'Liberation Serif', 'Times New Roman', serif" font-size="101" fill="#1f1f1f">
<text transform="translate(1121.7,1769.6) scale(0.972,1)" text-anchor="middle">Time [s]</text>
<text transform="translate(114.8,806.3) rotate(-90) scale(0.968,1)" text-anchor="middle">Normalized amplitude</text>
</g>
<rect x="1485" y="1229" width="399" height="276" fill="#fff" stroke="#1f1f1f" stroke-width="3"/>
<g stroke-width="5.3" fill="none"><line x1="1494.5" y1="1277" x2="1589" y2="1277" stroke="#0072BD"/><line x1="1494.5" y1="1367.3" x2="1589" y2="1367.3" stroke="#F9510A"/><line x1="1494.5" y1="1456.7" x2="1589" y2="1456.7" stroke="#58AD16"/></g>
<g font-family="'Liberation Serif', 'Times New Roman', serif" font-size="80" fill="#000">
<text x="1595.5" y="1306.1">X-band</text><text x="1596" y="1396">Ku-band</text><text x="1599.5" y="1484.5">W-band</text>
</g>
</svg>
</body></html>
